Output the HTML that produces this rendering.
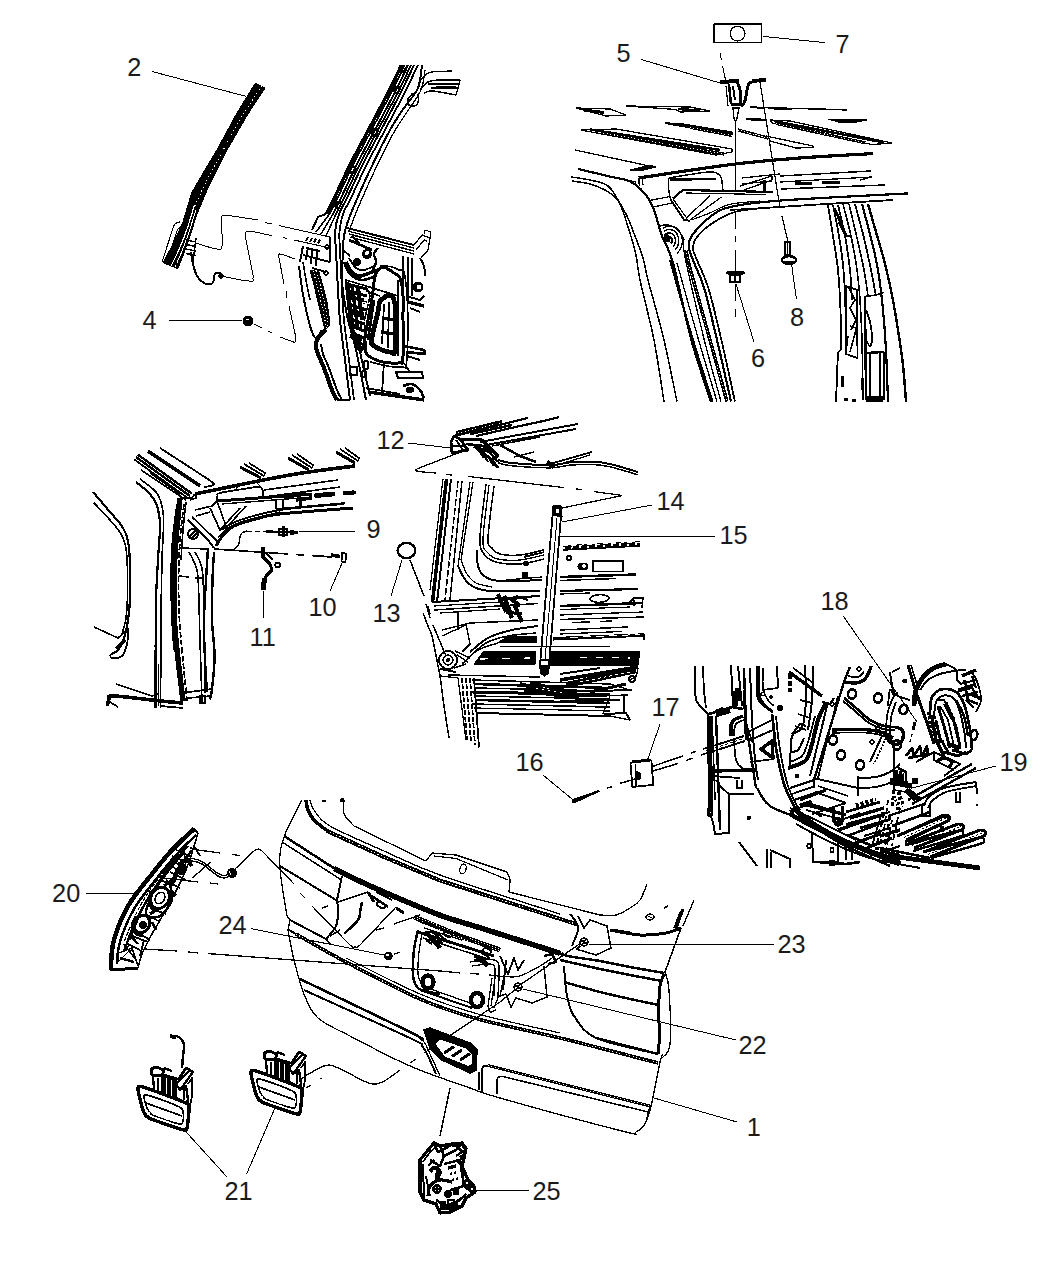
<!DOCTYPE html>
<html><head><meta charset="utf-8"><title>Liftgate parts diagram</title>
<style>
html,body{margin:0;padding:0;background:#fff}
body{width:1050px;height:1275px;overflow:hidden}
svg{display:block}
svg path,svg circle,svg ellipse,svg rect,svg line{stroke:#000;stroke-width:1.3;fill:none;stroke-linejoin:round}
svg text{font-family:"Liberation Sans","DejaVu Sans",sans-serif;font-size:25.3px;fill:#1a1a1a;stroke:none}
</style></head><body>
<svg width="1050" height="1275" viewBox="0 0 1050 1275" shape-rendering="crispEdges">
<g>
<!-- labels -->
<text x="127.3" y="75.5">2</text>
<text x="142.5" y="329">4</text>
<text x="616.5" y="62.4">5</text>
<text x="750.9" y="367.4">6</text>
<text x="835.5" y="53">7</text>
<text x="790.1" y="325.6">8</text>
<text x="366.5" y="538">9</text>
<text x="308.5" y="616">10</text>
<text x="249.5" y="646">11</text>
<text x="376.5" y="449">12</text>
<text x="372.5" y="622">13</text>
<text x="656.5" y="510">14</text>
<text x="719.5" y="544.4">15</text>
<text x="515.5" y="771">16</text>
<text x="651.5" y="715.6">17</text>
<text x="820.5" y="610">18</text>
<text x="999.5" y="771">19</text>
<text x="52.1" y="902">20</text>
<text x="224.5" y="1200">21</text>
<text x="738.5" y="1054">22</text>
<text x="777.5" y="953">23</text>
<text x="218.5" y="934">24</text>
<text x="532.5" y="1199.6">25</text>
<text x="746.8" y="1136">1</text>
<!-- leaders -->
<path d="M152.4,71.6 246.5,96.5" style="stroke-width:1"/>
<path d="M169,320.4 242,320.4" style="stroke-width:1"/>
<path d="M641,59.4 720,83" style="stroke-width:1"/>
<path d="M736,284 754,342" style="stroke-width:1"/>
<path d="M763,36.4 825,42.6" style="stroke-width:1"/>
<path d="M791.6,264.4 796.4,299" style="stroke-width:1"/>
<path d="M299,532 356,531" style="stroke-width:1"/>
<path d="M343,561 330,591" style="stroke-width:1"/>
<path d="M263,590 263.6,618" style="stroke-width:1"/>
<path d="M408,443 451,448" style="stroke-width:1"/>
<path d="M402,560 391,596" style="stroke-width:1"/>
<path d="M562,522 652,505" style="stroke-width:1"/>
<path d="M560,536.6 715,536.6" style="stroke-width:1"/>
<path d="M543,775 572,799" style="stroke-width:1"/>
<path d="M660,724 647.6,759.7" style="stroke-width:1"/>
<path d="M843,615.7 917,722" style="stroke-width:1"/>
<path d="M996,766 912,788" style="stroke-width:1"/>
<path d="M85.6,893.4 136,893.4" style="stroke-width:1"/>
<path d="M184,1129.6 227,1177" style="stroke-width:1"/>
<path d="M275,1108 246.6,1174" style="stroke-width:1"/>
<path d="M523,989 736,1040" style="stroke-width:1"/>
<path d="M589,944.4 773.6,944.4" style="stroke-width:1"/>
<path d="M251,928.6 384,955" style="stroke-width:1"/>
<path d="M475,1190.6 529,1190.6" style="stroke-width:1"/>
<path d="M654,1098 737,1122" style="stroke-width:1"/>
</g>
<g>
<!-- panel A: strip 2 + D pillar -->
<path d="M255.3,83.3 237,113 218,148 202,175 191.6,193 183,222 172,246 163,262.7 177.8,268.6 183,256 190,236 197,214 208.2,187.3 225.9,152 247.5,114.7 265,88Z" style="stroke-width:1;fill:#000"/>
<path d="M261.3,86.2C258.3,90.9 249.9,103.3 243.5,114.1C237.1,124.8 229.2,139.1 222.9,150.5C216.6,161.9 210.5,173.4 205.8,182.6C201.2,191.9 196.8,202.1 194.9,206" style="stroke-width:1;stroke-dasharray:1 3;stroke:#fff"/>
<path d="M194.6,204.6C193.3,208.7 189.6,221.9 186.8,229.7C184.1,237.5 180.7,245.5 178.1,251.5C175.4,257.5 172.3,263.5 171.1,265.9" style="stroke-width:1.2;stroke:#fff"/>
<path d="M195.9,209.8C194.7,213.7 191.1,225.8 188.6,233.2C186.1,240.6 183.1,248.3 180.8,254C178.5,259.7 175.8,265.2 174.8,267.4" style="stroke-width:1;stroke:#fff"/>
<path d="M180,222C179.2,222.3 176.5,222 175,224C173.5,226 172.5,229.7 171,234C169.5,238.3 167.5,245.3 166,250C164.5,254.7 162.7,260 162,262" style="stroke-width:1.2"/>
<path d="M182,226C181.3,226.5 179.3,226.7 178,229C176.7,231.3 175.5,235.5 174,240C172.5,244.5 169.8,253.3 169,256" style="stroke-width:1"/>
<path d="M186,240 196,242" style="stroke-width:1.5"/>
<path d="M186,244.5 196,246.5" style="stroke-width:1.5"/>
<path d="M186,249 196,251" style="stroke-width:1.5"/>
<path d="M186,253.5 196,255.5" style="stroke-width:1.5"/>
<path d="M196,238 193,262" style="stroke-width:1.5"/>
<path d="M178,268 176,262" style="stroke-width:1.5"/>
<path d="M196,243C201.6,244.6 210.1,248.2 217,249C223.9,249.8 220.5,248.4 222,246C223.5,243.6 222.4,241.6 222.5,240" style="stroke-width:1"/>
<path d="M222.5,240 221,221" style="stroke-width:1"/>
<path d="M221,221C221.2,220.2 221.2,217 222,216C222.8,215 225.3,215.2 226,215" style="stroke-width:1"/>
<path d="M226,215 258,220" style="stroke-width:1"/>
<path d="M265,222.6 272,224" style="stroke-width:1"/>
<path d="M279,225.6 330,237" style="stroke-width:1"/>
<path d="M221,276C228.5,277.3 240.5,280.5 249,281C257.5,281.5 252.1,280.4 253,278C253.9,275.6 252.6,273.6 252.5,272" style="stroke-width:1"/>
<path d="M252.5,272 245.5,237" style="stroke-width:1"/>
<path d="M245.5,237C245.6,236.2 245.2,233 246,232C246.8,231 249.3,231.2 250,231" style="stroke-width:1"/>
<path d="M250,231 272,235.6" style="stroke-width:1"/>
<path d="M283,237.6 287,238.4" style="stroke-width:1"/>
<path d="M294,240 330,248" style="stroke-width:1"/>
<path d="M191,252C191.3,254 192,260 193,264C194,268 195.2,272.8 197,276C198.8,279.2 201.5,281.7 204,283C206.5,284.3 210.3,284.3 212,283.6C213.7,282.9 213.5,280.6 214,279C214.5,277.4 214,275 215,274C216,273 218.8,272.5 220,273C221.2,273.5 221.7,276.3 222,277" style="stroke-width:2"/>
<circle cx="221" cy="276" r="2" style="stroke-width:1.5;fill:#000"/>
<circle cx="248" cy="321" r="4.8" style="stroke-width:1;fill:#000"/>
<path d="M246,319 249,320" style="stroke-width:1;stroke:#fff"/>
<path d="M254,324 262,328" style="stroke-width:1"/>
<path d="M268,331 272,333" style="stroke-width:1"/>
<path d="M280,337C282.9,338.1 287,339.7 291,341C295,342.3 293.7,342.8 295,342C296.3,341.2 295.7,339.1 296,338" style="stroke-width:1"/>
<path d="M296,338 289,306" style="stroke-width:1"/>
<path d="M287,298 286,291" style="stroke-width:1"/>
<path d="M284,284 279,258" style="stroke-width:1"/>
<path d="M279,258C279,257.1 278.2,255.4 279,254.5C279.8,253.6 277.7,253.3 282,254.5C286.3,255.7 291.5,257.8 295,259" style="stroke-width:1"/>
<path d="M401,65C399.8,67.5 396.5,74.8 394,80C391.5,85.2 390.3,87.7 386,96C381.7,104.3 374,118.7 368,130C362,141.3 355.7,152.7 350,164C344.3,175.3 338,189.7 334,198C330,206.3 327.3,211.3 326,214" style="stroke-width:2.5"/>
<path d="M404.5,65C403.3,67.5 400,74.8 397.5,80C395,85.2 393.8,87.7 389.5,96C385.2,104.3 377.5,118.7 371.5,130C365.5,141.3 359.2,152.7 353.5,164C347.8,175.3 341.5,189.7 337.5,198C333.5,206.3 330.8,211.3 329.5,214" style="stroke-width:1.8"/>
<path d="M408,65C406.8,67.5 403.5,74.8 401,80C398.5,85.2 397.3,87.7 393,96C388.7,104.3 381,118.7 375,130C369,141.3 362.7,152.7 357,164C351.3,175.3 345,189.7 341,198C337,206.3 334.3,211.3 333,214" style="stroke-width:2"/>
<path d="M411,65C409.8,67.5 406.5,74.8 404,80C401.5,85.2 400.3,87.7 396,96C391.7,104.3 384,118.7 378,130C372,141.3 365.7,152.7 360,164C354.3,175.3 348,189.7 344,198C340,206.3 337.3,211.3 336,214" style="stroke-width:1.8"/>
<path d="M402.5,65C401.3,67.5 398,74.8 395.5,80C393,85.2 391.8,87.7 387.5,96C383.2,104.3 375.5,118.7 369.5,130C363.5,141.3 357.2,152.7 351.5,164C345.8,175.3 339.5,189.7 335.5,198C331.5,206.3 328.8,211.3 327.5,214" style="stroke-width:1.5"/>
<path d="M326,214 318,217 312,230" style="stroke-width:2"/>
<path d="M329.5,214 316,232" style="stroke-width:1.5"/>
<path d="M333,214 321,234" style="stroke-width:1.5"/>
<path d="M336,214 326,236" style="stroke-width:1.5"/>
<path d="M414,65C411.5,70.2 404.5,85.2 399,96C393.5,106.8 387,118.7 381,130C375,141.3 368.7,152.7 363,164C357.3,175.3 351,189.7 347,198C343,206.3 341,208.3 339,214C337,219.7 335.5,226 335,232C334.5,238 335.5,240.3 336,250C336.5,259.7 337.3,278.3 338,290C338.7,301.7 338.8,308.3 340,320C341.2,331.7 343.3,346.7 345,360C346.7,373.3 349.2,393.3 350,400" style="stroke-width:2"/>
<path d="M418,65C415.5,70.2 408.5,85.2 403,96C397.5,106.8 391,118.7 385,130C379,141.3 372.7,152.7 367,164C361.3,175.3 355,189.7 351,198C347,206.3 344.9,208.3 343,214C341.1,219.7 340,226 339.5,232C339,238 339.6,240.3 340,250C340.4,259.7 341.3,278.3 342,290C342.7,301.7 342.8,308.3 344,320C345.2,331.7 347.3,346.7 349,360C350.7,373.3 353.2,393.3 354,400" style="stroke-width:1.8"/>
<ellipse cx="397" cy="90" rx="2.4" ry="3.4" transform="rotate(25 397 90)" style="stroke-width:2"/>
<ellipse cx="375" cy="132" rx="2.4" ry="3.4" transform="rotate(25 375 132)" style="stroke-width:2"/>
<ellipse cx="353" cy="170" rx="2.4" ry="3.4" transform="rotate(25 353 170)" style="stroke-width:2"/>
<ellipse cx="338" cy="205" rx="2.4" ry="3.4" transform="rotate(25 338 205)" style="stroke-width:2"/>
<path d="M422,65C421.3,68.8 421,80.8 418,88C415,95.2 408.7,101 404,108C399.3,115 395.7,119.7 390,130C384.3,140.3 376,157.3 370,170C364,182.7 357.8,197 354,206C350.2,215 348.7,219 347,224C345.3,229 344.7,231.7 344,236C343.3,240.3 343.3,242.7 343,250C342.7,257.3 341.7,271 342,280C342.3,289 344,297.3 345,304C346,310.7 346.2,312.3 348,320C349.8,327.7 353,336.7 356,350C359,363.3 364.3,391.7 366,400" style="stroke-width:2"/>
<path d="M425,70C424.3,73.3 424,83 421,90C418,97 411.7,104.7 407,112C402.3,119.3 398.5,124 393,134C387.5,144 379.8,159.7 374,172C368.2,184.3 361.8,199 358,208C354.2,217 352.5,222 351,226C349.5,230 349.3,231 349,232"/>
<path d="M401,65 403,72 408,65" style="stroke-width:2"/>
<path d="M418,84C419,82.7 421.7,78 424,76C426.3,74 427.3,72.8 432,72C436.7,71.2 448.7,71.2 452,71"/>
<path d="M420,90C421.3,88.7 424.7,83.7 428,82C431.3,80.3 434.7,80.3 440,80C445.3,79.7 456.7,80 460,80" style="stroke-width:1.5"/>
<path d="M428,84 458,84" style="stroke-width:1.5"/>
<path d="M431,88 457,88"/>
<path d="M424,93C425.3,92.7 426.7,90.7 432,91C437.3,91.3 452,94.3 456,95" style="stroke-width:1.5"/>
<path d="M460,80 458,88 456,95"/>
<path d="M436,86 456,86" style="stroke-width:1"/>
<path d="M413,93C412.2,94 408.7,97 408,99C407.3,101 407.7,103.9 409,105C410.3,106.1 414.4,106.3 416,105.5C417.6,104.7 418.2,101.9 418.5,100C418.8,98.1 418.1,95 418,94" style="stroke-width:1.5"/>
<path d="M347,228 414,245" style="stroke-width:2"/>
<path d="M347.9,231 414,248"/>
<path d="M348.8,234 414,251" style="stroke-width:1.5"/>
<path d="M349.7,237 414,254"/>
<path d="M414,245 422,235 430,238 428,250 421,258"/>
<path d="M416,250 424,240 427,241"/>
<path d="M424,234 425,230 431,232 430,238" style="stroke-width:1"/>
</g>
<g>
<!-- panel A interior -->
<path d="M299,266C299.3,268.7 300.2,276.3 301,282C301.8,287.7 302.8,294 304,300C305.2,306 306.7,312.7 308,318C309.3,323.3 310.7,328.7 312,332C313.3,335.3 314.3,338.3 316,338C317.7,337.7 321,331.3 322,330" style="stroke-width:2"/>
<path d="M303,262C303.5,265 304.8,273.7 306,280C307.2,286.3 309.3,296.7 310,300" style="stroke-width:1.6"/>
<path d="M310,270 314,285 318,302 322,318 325,330 329,326 329,316 327,302 323,286 319,272Z" style="stroke-width:1;fill:#000"/>
<path d="M313.1,270.7C313.8,273.1 315.8,280.1 317.1,285.4C318.5,290.6 319.9,296.7 321.1,302C322.4,307.3 323.6,312.9 324.4,317.3C325.3,321.7 326.1,326.7 326.4,328.6" style="stroke-width:1;stroke-dasharray:1.2 2.2;stroke:#fff"/>
<path d="M316.3,271.4C317,273.8 319,280.6 320.3,285.7C321.6,290.8 323.2,296.9 324.3,302C325.4,307.1 326.3,312.4 326.9,316.6C327.5,320.8 327.6,325.4 327.8,327.2" style="stroke-width:1;stroke-dasharray:1.2 2.2;stroke:#fff"/>
<path d="M326,330C324.7,331.3 319.7,335.3 318,338C316.3,340.7 316,343.3 316,346C316,348.7 316.7,350.3 318,354C319.3,357.7 321.7,362 324,368C326.3,374 329.8,384.7 332,390C334.2,395.3 336.2,398.3 337,400" style="stroke-width:4.1"/>
<path d="M321,344C321.3,345.7 321.7,350 323,354C324.3,358 326.7,362 329,368C331.3,374 334.8,384.7 337,390C339.2,395.3 341.2,398.3 342,400" style="stroke-width:2"/>
<path d="M337,400 350,400" style="stroke-width:2"/>
<path d="M308,237 306,241" style="stroke-width:2"/>
<path d="M312,237.8 310,241.8" style="stroke-width:2"/>
<path d="M316,238.6 314,242.6" style="stroke-width:2"/>
<path d="M320,239.4 318,243.4" style="stroke-width:2"/>
<path d="M303,246 300,262" style="stroke-width:2"/>
<path d="M308,247 306,260" style="stroke-width:2"/>
<path d="M312,248 311,264" style="stroke-width:2"/>
<path d="M317,250 316,266" style="stroke-width:2"/>
<path d="M303,255 330,262" style="stroke-width:2"/>
<path d="M306,248 320,251" style="stroke-width:2"/>
<circle cx="327" cy="247" r="1.8" style="stroke-width:1.6"/>
<circle cx="326" cy="273" r="1.8" style="stroke-width:1.6"/>
<path d="M312,268 326,272" style="stroke-width:1.8"/>
<path d="M330,237 330,262" style="stroke-width:1.8"/>
<path d="M378,270C383.1,264.2 388.4,269.3 394,273C399.6,276.7 399.9,275 402,286C404.1,297 402.8,303.7 403,320C403.2,336.3 404.2,346 403,356C401.8,366 405.2,362.5 398,363C390.8,363.5 379.7,362.4 372,358C364.3,353.6 365.9,352.9 365,344C364.1,335.1 366.4,330.7 368,320C369.6,309.3 369.7,309.7 372,298C374.3,286.3 372.9,275.8 378,270Z" style="stroke-width:3"/>
<path d="M380,266C384,266.7 390.9,264.8 397,269C403.1,273.2 403.7,263.7 406,284C408.3,304.3 408.4,336.6 407,356C405.6,375.4 408.6,365.6 400,367C391.4,368.4 377,363.2 370,362" style="stroke-width:1.6"/>
<path d="M381,300C384.2,297.6 391.2,290.4 394,300C396.8,309.6 395.8,337.6 395,348C394.2,358.4 394.2,352.4 390,352C385.8,351.6 377.6,348.8 374,346C370.4,343.2 371.2,344.8 372,338C372.8,331.2 376.2,319.6 378,312C379.8,304.4 377.8,302.4 381,300Z" style="stroke-width:4.7"/>
<path d="M383,318 394,320" style="stroke-width:3.4"/>
<path d="M381,332 394,334" style="stroke-width:3.4"/>
<path d="M384,304 382,344" style="stroke-width:1.8"/>
<path d="M389,302 388,348" style="stroke-width:1.8"/>
<path d="M346,262C347,263.7 349.7,269.7 352,272C354.3,274.3 356.7,276 360,276C363.3,276 369,273 372,272C375,271 377,270.3 378,270" style="stroke-width:3.4"/>
<path d="M349,258C350.2,259.7 353.5,266 356,268C358.5,270 361,270.3 364,270C367,269.7 372.3,266.7 374,266" style="stroke-width:1.8"/>
<path d="M372,272C372.7,270.3 375.7,265 376,262C376.3,259 373.7,256.3 374,254C374.3,251.7 377.3,249 378,248" style="stroke-width:2.4"/>
<circle cx="367" cy="254" r="4.5" style="stroke-width:1;fill:#000"/>
<circle cx="367" cy="253" r="1.5" style="stroke-width:1;fill:#fff;stroke:#fff"/>
<circle cx="357" cy="262" r="3" style="stroke-width:1.6;fill:#000"/>
<path d="M346,280 366,286 370,296 364,322 366,344 360,348 352,330 348,304Z" style="stroke-width:1.6"/>
<path d="M347,284 367,289" style="stroke-width:3"/>
<path d="M347.8,291 367,296" style="stroke-width:3"/>
<path d="M348.6,298 367,303" style="stroke-width:3"/>
<path d="M349.4,305 367,310" style="stroke-width:3"/>
<path d="M350.2,312 364,317" style="stroke-width:3"/>
<path d="M351,319 364,324" style="stroke-width:3"/>
<path d="M351.8,326 364,331" style="stroke-width:3"/>
<path d="M352.6,333 364,338" style="stroke-width:3"/>
<path d="M353.4,340 364,345" style="stroke-width:3"/>
<path d="M352,300 370,304" style="stroke-width:1;stroke:#fff"/>
<path d="M354,318 366,322" style="stroke-width:1;stroke:#fff"/>
<circle cx="358" cy="326" r="3" style="stroke-width:2"/>
<path d="M366,286 398,296" style="stroke-width:1.8"/>
<path d="M366,291 380,296" style="stroke-width:1.8"/>
<path d="M349,240 372,250" style="stroke-width:2.7"/>
<path d="M352,236 360,244" style="stroke-width:2.7"/>
<path d="M343,250 350,256" style="stroke-width:2"/>
<path d="M403,256 403,300" style="stroke-width:1.8"/>
<path d="M408,257 408,300" style="stroke-width:2.7"/>
<path d="M412,258 412,296" style="stroke-width:1.8"/>
<path d="M420,258C420.7,259.3 423.2,263 424,266C424.8,269 424.8,274.3 425,276" style="stroke-width:2"/>
<circle cx="418" cy="287" r="5" style="stroke-width:1;fill:#000"/>
<circle cx="419" cy="287" r="2" style="stroke-width:1;fill:#fff;stroke:#fff"/>
<path d="M406,296 420,300 424,296" style="stroke-width:2"/>
<path d="M408,302 424,306" style="stroke-width:3.4"/>
<path d="M410,308 420,312" style="stroke-width:2"/>
<path d="M404,346 424,350 425,354 406,352" style="stroke-width:2.7"/>
<path d="M407,356 420,360" style="stroke-width:2"/>
<path d="M396,372 422,372 423,378 398,378Z" style="stroke-width:2"/>
<path d="M403,386C404.5,385.7 409.2,383.3 412,384C414.8,384.7 418,387.7 420,390C422,392.3 423.3,396.7 424,398" style="stroke-width:2.7"/>
<ellipse cx="410" cy="390" rx="4" ry="3" style="stroke-width:1;fill:#000"/>
<circle cx="414" cy="394" r="2" style="stroke-width:1;fill:#fff;stroke:#fff"/>
<path d="M368,392 424,400" style="stroke-width:3.4"/>
<path d="M366,388 400,394" style="stroke-width:1.8"/>
<path d="M384,362 382,394" style="stroke-width:1.8"/>
<path d="M404,363 410,372" style="stroke-width:1.6"/>
<rect x="350" y="367" width="7" height="8" style="stroke-width:1.6"/>
<ellipse cx="366" cy="365" rx="2.5" ry="4" style="stroke-width:2"/>
<ellipse cx="364" cy="374" rx="2.5" ry="3.5" style="stroke-width:2"/>
<path d="M360,352 370,396" style="stroke-width:2"/>
<path d="M356,350 366,400" style="stroke-width:1.8"/>
<path d="M347,282 352,330 360,350" style="stroke-width:4.7"/>
<path d="M352,286 358,330" style="stroke-width:3.4"/>
<path d="M358,288 362,320" style="stroke-width:4.1"/>
<path d="M346,296 364,300" style="stroke-width:3.4"/>
<path d="M348,310 364,314" style="stroke-width:4.1"/>
<path d="M350,336 362,340" style="stroke-width:4.1"/>
<path d="M344,262C345,264 347,271 350,274C353,277 357.7,279.7 362,280C366.3,280.3 373.7,276.7 376,276" style="stroke-width:2.7"/>
<path d="M398,280 398,356" style="stroke-width:1.8"/>
<path d="M366,344 360,352" style="stroke-width:3.4"/>
<path d="M374,300 368,340" style="stroke-width:2.7"/>
</g>
<g>
<!-- panel B: roof + hinge -->
<rect x="714" y="24" width="47.6" height="18.6"/>
<circle cx="737.6" cy="33.6" r="7.4"/>
<path d="M720,53 721.5,60" style="stroke-width:1"/>
<path d="M722.5,66 726,82" style="stroke-width:1"/>
<path d="M720,82 739,81" style="stroke-width:4"/>
<path d="M737,82C737.7,83.9 739.1,84.9 740,90C740.9,95.1 740.1,101 741,104C741.9,107 742.8,104.9 744,103C745.2,101.1 745.1,100 746,96C746.9,92 746.6,89.3 748,86C749.4,82.7 747.8,83.4 752,82C756.2,80.6 762.7,80.5 766,80" style="stroke-width:3"/>
<path d="M752,81 766,79.5" style="stroke-width:3.5"/>
<path d="M729,84 731,104" style="stroke-width:2.5"/>
<path d="M733,86 735,100" style="stroke-width:2"/>
<path d="M726,86 728,106" style="stroke-width:1.2"/>
<path d="M731,104 741,105" style="stroke-width:3"/>
<path d="M732,108 740,108" style="stroke-width:2"/>
<path d="M733,108 734,118 735.6,122 737,118 739,108"/>
<path d="M735.6,122 735.6,190.7"/>
<path d="M735.6,213 735.6,228.6" style="stroke-width:1.5"/>
<path d="M735.6,235.7 735.6,242" style="stroke-width:1.5"/>
<path d="M735.6,250 735.6,271" style="stroke-width:1.5"/>
<path d="M735.6,284 735.6,301.4" style="stroke-width:1"/>
<path d="M735.6,308.6 735.6,317" style="stroke-width:1"/>
<path d="M760,82 780,208" style="stroke-width:1.2"/>
<path d="M782,216 788,242" style="stroke-width:1.2"/>
<path d="M728,272.9 743,272.9" style="stroke-width:3.5;stroke-linecap:round"/>
<rect x="730" y="275" width="10" height="7" style="stroke-width:1.5"/>
<path d="M735,275 735,282" style="stroke-width:1.2"/>
<rect x="785" y="242" width="5" height="13" style="stroke-width:2.2"/>
<path d="M787.5,242 787.5,255" style="stroke-width:1"/>
<ellipse cx="789" cy="260" rx="7" ry="3.8" style="stroke-width:2.5"/>
<path d="M784,262 794,262" style="stroke-width:1.5"/>
<path d="M576,108 610,109 626,115 606,116Z"/>
<path d="M584,110 604,112.5" style="stroke-width:3"/>
<path d="M626,106 690,107 710,111 680,112 676,109.5Z"/>
<path d="M678,109 700,110.5" style="stroke-width:2.5"/>
<path d="M581,130 616,129 732,149 732,152 716,155 586,131Z"/>
<path d="M590,129.5 720,150" style="stroke-width:2.5"/>
<path d="M600,132.5 724,154" style="stroke-width:3.2"/>
<path d="M600,132.5 724,154" style="stroke-width:1;stroke-dasharray:1 2.5;stroke:#fff"/>
<path d="M665,123 680,123.5 732,132 732,135 668,124Z" style="stroke-width:1.2"/>
<path d="M668,123.5 732,133" style="stroke-width:2.5"/>
<path d="M690,127.5 732,135.5" style="stroke-width:3"/>
<path d="M690,127.5 732,135.5" style="stroke-width:1;stroke-dasharray:1 2.5;stroke:#fff"/>
<path d="M575,150 654,167"/>
<path d="M630,170 650,165 656,167 640,171Z" style="stroke-width:1;fill:#000"/>
<path d="M578,169 636,182"/>
<path d="M750,107 847,110"/>
<path d="M768,108 792,109" style="stroke-width:2.5"/>
<path d="M808,108.6 826,109.4" style="stroke-width:2"/>
<path d="M828,119 867,120 852,123 838,122Z" style="stroke-width:1;fill:#000"/>
<path d="M770,120 790,121 892,143 872,144.5 772,123Z"/>
<path d="M774,121 884,142.5" style="stroke-width:2.5"/>
<path d="M776,123.5 866,143" style="stroke-width:3"/>
<path d="M776,123.5 866,143" style="stroke-width:1;stroke-dasharray:1 2.5;stroke:#fff"/>
<path d="M738,130 768,138" style="stroke-width:3.2"/>
<path d="M738,130 768,138" style="stroke-width:1;stroke-dasharray:1.5 1.5;stroke:#fff"/>
<path d="M766,136 813,146 813,147.5 796,148 770,141"/>
<path d="M746,119 766,120" style="stroke-width:2.5"/>
<path d="M750,107 764,108" style="stroke-width:2"/>
<path d="M638.6,178C654.3,175.7 706.1,167.6 733,164.3C759.9,161 776.7,159.8 800,158C823.3,156.2 860.8,154.3 873,153.6" style="stroke-width:3.2"/>
<path d="M638.6,178 639.5,186" style="stroke-width:1.5"/>
<path d="M642,177.5 643,185" style="stroke-width:1.2"/>
<path d="M780,176 871,171" style="stroke-width:1.5"/>
<path d="M780,182 872,177"/>
<path d="M781,189 885,185" style="stroke-width:1.5"/>
<path d="M795,184 812,183" style="stroke-width:3"/>
<path d="M822,183 840,182" style="stroke-width:3"/>
<path d="M860,180 868,178"/>
<path d="M742,178 780,174"/>
<path d="M742,184 772,181"/>
<path d="M571,177C574.2,177.5 583.8,178.5 590,180C596.2,181.5 603,182 608,186C613,190 616.5,196.7 620,204C623.5,211.3 626.3,221.5 629,230C631.7,238.5 634.2,246.7 636,255C637.8,263.3 637,265.8 640,280C643,294.2 650,319.7 654,340C658,360.3 662.3,391.3 664,401.6" style="stroke-width:1.5"/>
<path d="M572,181C575,181.5 584.7,182.6 590,184C595.3,185.4 599.7,187.2 604,189.5C608.3,191.8 612.3,193.9 616,198C619.7,202.1 622.8,207.7 626,214C629.2,220.3 632.2,228.7 635,236C637.8,243.3 640.8,250.7 643,258C645.2,265.3 644.5,266.3 648,280C651.5,293.7 659.2,319.7 664,340C668.8,360.3 674.8,391.3 677,401.6" style="stroke-width:1.5"/>
<path d="M578,169C583.7,170.3 603.3,174.9 612,177C620.7,179.1 624.6,178.7 630,181.4C635.4,184.1 640.5,188.7 644.3,193C648.1,197.3 650.1,200.1 653,207C655.9,213.9 658.1,225 661.4,234.3C664.7,243.6 668,245.4 673,263C678,280.6 685.1,316.9 691.4,340C697.7,363.1 707.7,391.3 711,401.6" style="stroke-width:2.2"/>
<path d="M668.6,178C668.6,180 668.4,186.3 668.8,190C669.1,193.7 670.4,198.3 670.7,200" style="stroke-width:1.5"/>
<path d="M668.6,178C673.6,177.2 680.3,175.9 690,174.5C699.7,173.1 703.5,172.1 710,172C716.5,171.9 715.3,172.5 718,174C720.7,175.5 720.3,174.9 721.4,178.6C722.5,182.3 722.5,187.3 722.9,190" style="stroke-width:1.5"/>
<path d="M670,179.5 716,179" style="stroke-width:2.5"/>
<path d="M672.9,198.6 682.9,190 772.9,192" style="stroke-width:2.2"/>
<path d="M686,193 766,194.5" style="stroke-width:1.2"/>
<path d="M670.7,200 684.3,220 690,220.7" style="stroke-width:2"/>
<path d="M673,199 686,217" style="stroke-width:1.2"/>
<path d="M685.7,218.6 710,195.7"/>
<path d="M690,220 721.4,197"/>
<path d="M648.6,200.7 670.7,196.4"/>
<path d="M652.9,207 672.9,202.9"/>
<path d="M908,193.4C886.4,194.6 808.3,198.4 778.6,200.7C748.9,203 741.4,204.3 730,207C718.6,209.7 716.2,212.4 710,217C703.8,221.6 696.5,229.5 692.9,234.3C689.3,239.1 688.6,241.7 688.6,246C688.6,250.3 690.3,252.9 692.9,260C695.5,267.1 700.3,275.3 704.3,288.6C708.3,301.9 712.5,321.2 717,340C721.5,358.8 728.7,391.3 731,401.6" style="stroke-width:2.2"/>
<path d="M893,200C873.9,201.2 804.6,205.1 778.6,207C752.6,208.9 748,208.8 737,211.4C726,214.1 719.6,218.6 712.9,222.9C706.2,227.2 700.3,232.7 697,237C693.7,241.3 693,244.8 693,248.6C693,252.4 694.4,253.3 697,260C699.6,266.7 704.4,275.3 708.5,288.6C712.6,301.9 717,321.2 721.4,340C725.8,358.8 732.7,391.3 735,401.6" style="stroke-width:1.8"/>
<path d="M691.4,220C694.5,218.8 703.6,215.5 710,212.9C716.4,210.3 721.7,206.3 730,204.3C738.3,202.3 755,201.6 760,201" style="stroke-width:1.2"/>
<path d="M740,186 772,176 772,180 744,190"/>
<path d="M764,180 764,192" style="stroke-width:3"/>
<path d="M667.1,237.2 A3,3.6 0 0 1 670.7,243.3" style="stroke-width:2"/>
<path d="M665.6,234.3 A6,7.2 0 0 1 672.8,246.6" style="stroke-width:1.5"/>
<path d="M664.1,231.4 A9,10.8 0 0 1 674.9,249.9" style="stroke-width:1.5"/>
<path d="M662.6,228.6 A12,14.4 0 0 1 677,253.2" style="stroke-width:1.3"/>
<ellipse cx="667" cy="238" rx="2.5" ry="4" transform="rotate(-20 667 238)" style="stroke-width:1;fill:#000"/>
<path d="M660,226C661.3,225.8 665,224.3 668,225C671,225.7 675.3,227.5 678,230C680.7,232.5 683,238.3 684,240" style="stroke-width:1.5"/>
<path d="M670,260C673.8,273.3 685.8,316.4 692.9,340C700,363.6 709.2,391.3 712.5,401.6" style="stroke-width:2.2"/>
<path d="M677,262.9C680.6,275.8 691.9,316.9 698.6,340C705.3,363.1 713.9,391.3 717,401.6"/>
<path d="M682.9,240C683.4,243.7 682.4,245.3 686,262C689.6,278.7 698.5,316.7 704.3,340C710.1,363.3 718.2,391.3 721,401.6"/>
<path d="M686,250C686.7,253 686,253 690,268C694,283 703.8,317.7 710,340C716.2,362.3 724.2,391.3 727,401.6" style="stroke-width:3.5"/>
<path d="M686,250C686.7,253 686,253 690,268C694,283 703.8,317.7 710,340C716.2,362.3 724.2,391.3 727,401.6" style="stroke-width:1;stroke-dasharray:1 2.5;stroke:#fff"/>
</g>
<g>
<!-- panel B right pillar -->
<path d="M828,205C828.8,210.2 831.3,225.2 833,236C834.7,246.8 836.8,257.7 838,270C839.2,282.3 840,296.7 840.5,310C841,323.3 840.9,343.3 841,350" style="stroke-width:1.8"/>
<path d="M841,350 838,352" style="stroke-width:1.6"/>
<path d="M838,352C837.8,356 837.3,367.7 837,376C836.7,384.3 836.2,397.3 836,401.6" style="stroke-width:1.8"/>
<path d="M868,204C869.3,208.7 873.3,222.7 876,232C878.7,241.3 881.3,249.5 884,260C886.7,270.5 889.7,283.3 892,295C894.3,306.7 896.2,318.3 898,330C899.8,341.7 901.7,353.1 903,365C904.3,376.9 905.5,395.5 906,401.6" style="stroke-width:2.4"/>
<path d="M862,204C863.5,209.7 868.3,227 871,238C873.7,249 876,258 878,270C880,282 881.7,296.7 883,310C884.3,323.3 885.2,334.7 886,350C886.8,365.3 887.7,393 888,401.6" style="stroke-width:2.2"/>
<path d="M855,204C856.5,209.7 861.3,227 864,238C866.7,249 869,260.3 871,270C873,279.7 875.2,291.7 876,296" style="stroke-width:1.8"/>
<path d="M849,204C850.3,209.7 854.5,227 857,238C859.5,249 862.2,260.3 864,270C865.8,279.7 867.3,291.7 868,296" style="stroke-width:1.6"/>
<path d="M843,204C844.3,209.3 848.7,225 851,236C853.3,247 855.5,259.3 857,270C858.5,280.7 859.2,288.3 860,300C860.8,311.7 861.5,323.3 862,340C862.5,356.7 862.8,390 863,400" style="stroke-width:1.6"/>
<path d="M838,205C839.2,210.2 843,225.2 845,236C847,246.8 848.8,259.3 850,270C851.2,280.7 851.7,295 852,300" style="stroke-width:1.8"/>
<path d="M833,205C834,210.2 837.2,225.2 839,236C840.8,246.8 842.4,257.7 843.5,270C844.6,282.3 845.1,296 845.5,310C845.9,324 845.9,346.7 846,354" style="stroke-width:1.8"/>
<path d="M834,208 838,216 846,236 839,222" style="stroke-width:3"/>
<path d="M846,236 850,236" style="stroke-width:1.8"/>
<path d="M846,286 857,290 857.5,358 846,354Z" style="stroke-width:1.8"/>
<path d="M849,288 855,300 850,308 856,320 851,330" style="stroke-width:1.6"/>
<path d="M850,326 856,328" style="stroke-width:1.8"/>
<path d="M848,336 846,352" style="stroke-width:1.6"/>
<path d="M857,326 850,352" style="stroke-width:1.6"/>
<path d="M865,296.5 876,295 884,292.5" style="stroke-width:1.6"/>
<path d="M865,296.5 866,400" style="stroke-width:2.4"/>
<path d="M884,352 884,400" style="stroke-width:1.8"/>
<path d="M866,353 884,352" style="stroke-width:2.4"/>
<path d="M870,354 870,398" style="stroke-width:1.6"/>
<path d="M880,353 880,398" style="stroke-width:1.6"/>
<path d="M866,398.5 883,398.5" style="stroke-width:6"/>
<path d="M866,310C866.7,312 869,317.3 870,322C871,326.7 872,334 872,338C872,342 871,345.7 870,346C869,346.3 866.7,341 866,340" style="stroke-width:1.8"/>
<path d="M842,376 842,387" style="stroke-width:3"/>
<path d="M862,378 862,390" style="stroke-width:3"/>
<path d="M844,399.5 848,399.5" style="stroke-width:3.6"/>
<path d="M852,400.5 856,400.5" style="stroke-width:2.4"/>
<path d="M730,210 893,200" style="stroke-width:1.6"/>
</g>
<g>
<!-- panel C: left corner 9,10,11 -->
<path d="M93,492C95.8,495.3 105,506 110,512C115,518 119.8,522 123,528C126.2,534 127.8,536.7 129,548C130.2,559.3 130.2,584 130,596C129.8,608 129,613 128,620C127,627 125.7,633 124,638C122.3,643 120.3,647.2 118,650C115.7,652.8 111.3,654.2 110,655" style="stroke-width:2.2"/>
<path d="M94,503C96.7,505.8 105.5,514.8 110,520C114.5,525.2 118.2,528.7 121,534C123.8,539.3 125.4,541.7 126.5,552C127.6,562.3 127.6,585 127.5,596C127.4,607 126.9,611.7 126,618C125.1,624.3 122.7,631.3 122,634" style="stroke-width:1.6"/>
<path d="M110,655C110.3,655.5 110,657.8 112,658C114,658.2 119.5,658.3 122,656C124.5,653.7 125.9,648.7 127,644C128.1,639.3 128.2,630.7 128.5,628" style="stroke-width:1.8"/>
<path d="M116,649 125,640" style="stroke-width:3.6"/>
<path d="M94,627 118,638 125,632" style="stroke-width:1.6"/>
<path d="M136,482C138.3,484 146.5,490 150,494C153.5,498 155.3,501 157,506C158.7,511 159.8,515 160,524C160.2,533 158.7,547.3 158,560C157.3,572.7 156.4,585 156,600C155.6,615 155.7,632 155.6,650C155.5,668 155.5,698.3 155.5,708" style="stroke-width:2.2"/>
<path d="M140,479C142.7,481.2 152.3,487.5 156,492C159.7,496.5 160.7,500.7 162,506C163.3,511.3 163.6,515 163.6,524C163.6,533 162.4,544 162,560C161.6,576 161.2,595.3 161,620C160.8,644.7 160.7,693.3 160.6,708" style="stroke-width:1.6"/>
<path d="M158,664 158,706" style="stroke-width:1"/>
<path d="M136,457 190,496" style="stroke-width:2.4"/>
<path d="M137.8,454.6 191.8,493.6" style="stroke-width:2.4"/>
<path d="M134.2,459.4 188.2,498.4" style="stroke-width:1.8"/>
<path d="M148,451 200,486" style="stroke-width:3.6"/>
<path d="M160,448C165.2,451.4 207,478.2 212,482C217,485.8 210.8,485.5 210,486C209.2,486.5 204.6,486.9 204,487" style="stroke-width:1.8"/>
<path d="M141,470 186,500" style="stroke-width:1.8"/>
<path d="M150,473 180,494" style="stroke-width:1.6"/>
<path d="M240,467 261,478" style="stroke-width:3"/>
<path d="M244,464 264,476" style="stroke-width:1.8"/>
<path d="M249,463 265,473 264,476" style="stroke-width:1.8"/>
<path d="M288,458 309,470" style="stroke-width:3"/>
<path d="M292,455 312,468" style="stroke-width:1.8"/>
<path d="M297,454 313,465 312,468" style="stroke-width:1.8"/>
<path d="M336,452 355,463" style="stroke-width:3"/>
<path d="M340,449 358,461" style="stroke-width:1.8"/>
<path d="M345,448 359,458 358,461" style="stroke-width:1.8"/>
<path d="M195,494C210.8,490.8 263.3,479.7 290,475C316.7,470.3 344.2,467.5 355,466" style="stroke-width:3.6"/>
<path d="M180,498 192,498 195,494" style="stroke-width:1.8"/>
<path d="M190,500 196,498 197,493" style="stroke-width:1.6"/>
<path d="M180,498C179.3,505 177,526.3 176,540C175,553.7 174.2,566.7 174,580C173.8,593.3 174,608.3 174.5,620C175,631.7 175.6,636.5 177,650C178.4,663.5 182,692.5 183,701" style="stroke-width:5.4"/>
<path d="M177,504C176.2,510 173.5,527.3 172.5,540C171.5,552.7 171.1,566.7 171,580C170.9,593.3 171.5,608.3 172,620C172.5,631.7 173.7,645 174,650" style="stroke-width:1.6"/>
<path d="M184,504C183.3,510 180.9,527.3 180,540C179.1,552.7 178.6,566.7 178.5,580C178.4,593.3 178.9,608.3 179.5,620C180.1,631.7 180.8,636.5 182,650C183.2,663.5 186.2,692.5 187,701" style="stroke-width:1.8;stroke-dasharray:6 2"/>
<path d="M186,502C185.5,506.7 183.8,520.3 183,530C182.2,539.7 181.3,555 181,560" style="stroke-width:1.6"/>
<path d="M217,501C217.1,500 216.9,497.6 217.5,496C218.1,494.4 215.5,494.3 220,493C224.5,491.7 232.4,490.7 240,489.5C247.6,488.3 253.6,487.1 258,487C262.4,486.9 261,487.8 262,489C263,490.2 262.8,491.2 263,493C263.2,494.8 263,497 263,498" style="stroke-width:1.8"/>
<path d="M236,490 238,484 256,482 262,488" style="stroke-width:1.4"/>
<path d="M218,501 312,494" style="stroke-width:3"/>
<path d="M222,504 300,498" style="stroke-width:1.4"/>
<path d="M264,490 338,480" style="stroke-width:1.6"/>
<path d="M264,497 340,487" style="stroke-width:1.6"/>
<path d="M283,500 283,508" style="stroke-width:1.8"/>
<path d="M276,500 276,509" style="stroke-width:1.6"/>
<path d="M300,497 300,506" style="stroke-width:3"/>
<path d="M284,497 306,494" style="stroke-width:3.6"/>
<path d="M296,500 312,498" style="stroke-width:3.6"/>
<path d="M316,495.5 333,494" style="stroke-width:4.8;stroke-linecap:round"/>
<path d="M345,493 354,492.5" style="stroke-width:4.2;stroke-linecap:round"/>
<path d="M276,509 345,503" style="stroke-width:1.6"/>
<path d="M210,508 220,530 226,528" style="stroke-width:1.8"/>
<path d="M217,501 226,526" style="stroke-width:1.6"/>
<path d="M220,530 240,508" style="stroke-width:1.6"/>
<path d="M226,528 246,506" style="stroke-width:1.6"/>
<path d="M195,510 212,506 217,501" style="stroke-width:1.6"/>
<path d="M196,516 210,512" style="stroke-width:1.6"/>
<path d="M188,520 208,540 214,548" style="stroke-width:1.8"/>
<path d="M192,517 212,536 218,542" style="stroke-width:1.6"/>
<circle cx="193" cy="534" r="5" style="stroke-width:1.8"/>
<path d="M189,537 196,530" style="stroke-width:2.4"/>
<path d="M191,539 198,532" style="stroke-width:1.8"/>
<path d="M216,546C217.3,544 221,537.3 224,534C227,530.7 228.7,528.5 234,526C239.3,523.5 248.3,521 256,519C263.7,517 263.8,515.8 280,514C296.2,512.2 340.8,509 353,508" style="stroke-width:3"/>
<path d="M220,530C223.3,528.3 230,523.3 240,520C250,516.7 262.7,512.7 280,510C297.3,507.3 333.3,505 344,504" style="stroke-width:1.8"/>
<path d="M218,538C219.7,536.3 223.7,530.8 228,528C232.3,525.2 235.3,523.7 244,521C252.7,518.3 274,513.5 280,512" style="stroke-width:1.4"/>
<path d="M208,548C207.7,553.3 206.7,568 206,580C205.3,592 204.2,606.7 204,620C203.8,633.3 204.5,648 205,660C205.5,672 206.7,686.7 207,692" style="stroke-width:2.4"/>
<path d="M214,552C213.8,556.7 212.8,568.7 212.5,580C212.2,591.3 211.7,607.3 212,620C212.3,632.7 214.6,644.5 214.6,656C214.6,667.5 212.8,681.8 212,689C211.2,696.2 210.3,697.8 210,699.5" style="stroke-width:2.4"/>
<path d="M189,552C189.8,553.7 192.5,557.7 194,562C195.5,566.3 197,565 198,578C199,591 199.3,619.2 200,640C200.7,660.8 201.7,692.5 202,703" style="stroke-width:1.6"/>
<path d="M195,552C195.8,553.7 198.7,557.7 200,562C201.3,566.3 202.2,565 203,578C203.8,591 204.2,620.9 204.5,640C204.8,659.1 204.9,683.8 205,692.6" style="stroke-width:1.6"/>
<path d="M180,548 208,549" style="stroke-width:1.6"/>
<path d="M179,576 189,577" style="stroke-width:1.6"/>
<path d="M195,578 203,578" style="stroke-width:1.6"/>
<path d="M184.6,692.6 212,689" style="stroke-width:1.8"/>
<path d="M183,698.6 210,696" style="stroke-width:1.6"/>
<rect x="200" y="696" width="5" height="7" style="stroke-width:1.4"/>
<path d="M107.4,706C107.7,704.8 107.9,700.7 109,699C110.1,697.3 105.4,695.7 114,696C122.6,696.3 149.1,699.8 160.6,701C172.1,702.2 179.3,702.7 183,703" style="stroke-width:3.6"/>
<path d="M160.6,706 183,708" style="stroke-width:1.8"/>
<path d="M110,702 118,707" style="stroke-width:1.8"/>
<path d="M116,684 152,696 159,693.5" style="stroke-width:1.6"/>
<path d="M247,531 266,531" style="stroke-width:1;stroke-dasharray:5 3"/>
<path d="M266,531.5 298,532.5" style="stroke-width:2.4"/>
<path d="M283,526 283,537" style="stroke-width:3"/>
<path d="M279,529 287,529 287,535 279,535Z" style="stroke-width:1.4"/>
<circle cx="292" cy="532.5" r="1.8" style="stroke-width:1.4"/>
<path d="M247,531C246.2,531.3 243.2,532 242,533C240.8,534 240.6,535 240,537C239.4,539 239.7,542.8 238.5,545C237.3,547.2 233.9,549.2 233,550" style="stroke-width:1.4"/>
<path d="M214,549 288,554" style="stroke-width:1.6"/>
<path d="M296,554.5 304,555" style="stroke-width:1.8"/>
<path d="M312,555.5 332,557" style="stroke-width:1.8"/>
<path d="M331,555 340,556.5" style="stroke-width:3.6"/>
<path d="M342,553 346,553.5 345.5,562 341.5,561.5Z" style="stroke-width:1.8"/>
<path d="M263,547 263,558" style="stroke-width:3.6"/>
<path d="M263,557 270,564 272,570 266,576 264,590" style="stroke-width:3"/>
<path d="M266,553 273,560" style="stroke-width:1.8"/>
<circle cx="277.6" cy="565" r="2.4" style="stroke-width:1.8"/>
<path d="M263.5,578 263,590" style="stroke-width:3.6"/>
<ellipse cx="406.5" cy="550.5" rx="8.8" ry="7.7" style="stroke-width:2.4"/>
</g>
<g>
<!-- panel D: strut 12-15 -->
<path d="M454,436 460,439 468,450 452,453 451,442Z" style="stroke-width:2.8"/>
<path d="M456,440 463,450" style="stroke-width:2"/>
<path d="M453,446 466,446" style="stroke-width:2"/>
<path d="M460,439 482,440 498,456 492,460 474,446" style="stroke-width:3"/>
<path d="M466,444 484,446 498,462" style="stroke-width:2.5"/>
<path d="M478,450 488,449" style="stroke-width:4"/>
<path d="M468,441.5 476,442" style="stroke-width:1;stroke:#fff"/>
<path d="M492,460 498,468" style="stroke-width:3"/>
<path d="M488,456 494,466" style="stroke-width:2.5"/>
<path d="M484,455 488,462" style="stroke-width:2"/>
<path d="M480,452 484,458" style="stroke-width:2"/>
<path d="M476,448 492,452" style="stroke-width:3.5"/>
<path d="M454,436 528,418" style="stroke-width:2.2"/>
<path d="M456,433 502,422" style="stroke-width:4"/>
<path d="M458,433 500,423" style="stroke-width:1;stroke-dasharray:1 2.5;stroke:#fff"/>
<path d="M476,436 520,426 548,420 559,417" style="stroke-width:2.2"/>
<path d="M480,442 578,424" style="stroke-width:2"/>
<path d="M486,445 576,429" style="stroke-width:2"/>
<path d="M470,434 512,425" style="stroke-width:2.5"/>
<path d="M492,446 540,437" style="stroke-width:1.5"/>
<path d="M500,445 520,456 536,462" style="stroke-width:2.5"/>
<path d="M514,457 534,452" style="stroke-width:1.5"/>
<path d="M498,460C500.3,460.5 503.3,462.2 512,463C520.7,463.8 540.3,465.1 550,465C559.7,464.9 563,463 570,462.4C577,461.8 585.3,461.3 592,461.6C598.7,461.9 602.3,462.3 610,464C617.7,465.7 633.3,470.7 638,472" style="stroke-width:2"/>
<path d="M498,462.8C500.3,463.3 503.3,465 512,465.8C520.7,466.6 540.3,467.9 550,467.8C559.7,467.7 563,465.8 570,465.2C577,464.6 585.3,464.1 592,464.4C598.7,464.7 602.3,465.1 610,466.8C617.7,468.5 633.3,473.5 638,474.8" style="stroke-width:1.5"/>
<path d="M550,464 592,452" style="stroke-width:1.8"/>
<path d="M554,466 590,455"/>
<path d="M547,462 554,467" style="stroke-width:4.5"/>
<path d="M466,450C461.1,451.9 421.6,466.9 417,469C412.4,471.1 418.1,471.1 420,471.5C421.9,471.9 434.4,472.9 436,473"/>
<path d="M446,474.5 452,475"/>
<path d="M468,476.4 564,487.6"/>
<path d="M576,489 582,489.6"/>
<path d="M594,491.6 622,495.4"/>
<path d="M622,495.6 562,508"/>
<path d="M446.5,479 432.5,602" style="stroke-width:3.5"/>
<path d="M451,479 437,602" style="stroke-width:2"/>
<path d="M458,481 445,600" style="stroke-width:1.5;stroke-dasharray:7 2"/>
<path d="M462,481 450,600" style="stroke-width:1.5"/>
<path d="M470,482 458,566"/>
<path d="M473,482 461,560"/>
<path d="M443,479 430,590" style="stroke-width:1.2"/>
<path d="M494,486C493,494.7 488.3,527.7 488,538C487.7,548.3 490,545.3 492,548C494,550.7 495.3,552.8 500,554C504.7,555.2 512.7,555.7 520,555C527.3,554.3 540,550.8 544,550" style="stroke-width:1.5"/>
<path d="M489,485C488,494.2 483.2,528.7 483,540C482.8,551.3 485.5,549.8 488,553C490.5,556.2 492.7,557.8 498,559C503.3,560.2 512.3,560.7 520,560C527.7,559.3 540,555.8 544,555"/>
<path d="M486,484C485,493 480.3,526.3 480,538C479.7,549.7 481.3,550 484,554C486.7,558 490,560.3 496,562C502,563.7 512,564.5 520,564C528,563.5 540,559.8 544,559" style="stroke-width:1.5"/>
<path d="M477,550C477.2,552.7 476.8,561.7 478,566C479.2,570.3 480.3,573.5 484,576C487.7,578.5 490.3,580.3 500,581C509.7,581.7 535,580.2 542,580" style="stroke-width:2"/>
<path d="M458,566C459,568 461.7,574.7 464,578C466.3,581.3 467.7,583.8 472,586C476.3,588.2 478.7,590.2 490,591C501.3,591.8 531.7,591 540,591" style="stroke-width:2"/>
<path d="M461,560C462,562.3 464.5,570.2 467,574C469.5,577.8 471.8,580.8 476,583C480.2,585.2 489.3,586.3 492,587" style="stroke-width:1.2"/>
<path d="M524,556 544,551" style="stroke-width:4"/>
<path d="M524,556 544,551" style="stroke-width:1;stroke-dasharray:1.5 3;stroke:#fff"/>
<rect x="524" y="562" width="4" height="3" style="stroke-width:1.2"/>
<circle cx="525" cy="575" r="3" style="stroke-width:1;fill:#000"/>
<path d="M506,580 542,577"/>
<path d="M553,510 540,665" style="stroke-width:1.8"/>
<path d="M561,516 549,665" style="stroke-width:1.8"/>
<path d="M557,518 545,660" style="stroke-width:1"/>
<path d="M553,506 561,506 562,517 553,515Z" style="stroke-width:1.2;fill:#000"/>
<circle cx="557.5" cy="511" r="1.5" style="stroke-width:1;fill:#fff;stroke:#fff"/>
<path d="M540,660 549,660"/>
<path d="M540,665 540.5,673 544.5,676 548.5,673 549,665" style="stroke-width:1.5;fill:#000"/>
<path d="M563,548 640,544" style="stroke-width:5.5"/>
<path d="M563,548 640,544" style="stroke-width:2;stroke-dasharray:2 6;stroke:#fff"/>
<path d="M563,546 640,542" style="stroke-width:1;stroke-dasharray:5 3;stroke:#fff"/>
<rect x="567" y="556" width="4" height="4"/>
<ellipse cx="583" cy="566.5" rx="5" ry="3.5" style="stroke-width:1;fill:#000"/>
<circle cx="584" cy="566" r="1.2" style="stroke-width:1;fill:#fff;stroke:#fff"/>
<rect x="593" y="561" width="30" height="10.6" style="stroke-width:1.5"/>
<path d="M560,577 636,574.5" style="stroke-width:2.5"/>
<path d="M560,580.5 616,578.5" style="stroke-width:1.5"/>
<path d="M560,591 638,589" style="stroke-width:2.2"/>
<path d="M560,594 590,593"/>
<ellipse cx="599.5" cy="598.5" rx="9.5" ry="3.8" transform="rotate(-3 599.5 598.5)" style="stroke-width:1.5"/>
<path d="M560,606 643,603" style="stroke-width:2.5"/>
<path d="M560,609.5 630,607" style="stroke-width:1.2"/>
<path d="M628,604 634,598 643,598 642,608" style="stroke-width:1.5"/>
<path d="M634,600 634,606" style="stroke-width:2.5"/>
<path d="M560,615 643,612"/>
<path d="M560,619.5 644,617" style="stroke-width:1.5"/>
<path d="M572,622.5 590,622" style="stroke-width:1.5"/>
<path d="M600,621.5 612,621" style="stroke-width:1.5"/>
<path d="M560,630 628,627" style="stroke-width:1.5"/>
<path d="M560,634 622,631.5"/>
<path d="M560,638.5 644,635" style="stroke-width:3.5"/>
<path d="M644,634 644,640" style="stroke-width:2"/>
<path d="M570,637.5 640,634.5" style="stroke-width:1;stroke-dasharray:8 5;stroke:#fff"/>
<path d="M560,651 640,652 638,665 560,665Z" style="stroke-width:1;fill:#000"/>
<path d="M580,657.5 630,658" style="stroke-width:1.2;stroke-dasharray:7 9;stroke:#fff"/>
<path d="M432,602 540,596" style="stroke-width:2"/>
<path d="M434,610 538,603.5" style="stroke-width:1.5"/>
<path d="M434,606 500,602" style="stroke-width:1.2"/>
<path d="M440,613 500,609"/>
<path d="M498,594 506,612" style="stroke-width:4"/>
<path d="M504,596 512,618" style="stroke-width:4.5"/>
<path d="M510,598 520,606" style="stroke-width:4"/>
<path d="M514,604 522,622" style="stroke-width:4"/>
<path d="M498,600 520,598" style="stroke-width:2.5"/>
<path d="M506,612 522,614" style="stroke-width:3"/>
<path d="M516,596 528,600" style="stroke-width:2.5"/>
<path d="M524,598 534,596" style="stroke-width:2"/>
<path d="M458,612 458,630" style="stroke-width:1.5"/>
<path d="M442,630 470,623 538,620" style="stroke-width:1.5"/>
<path d="M442,636 466,625"/>
<path d="M466,624 470,644 462,652" style="stroke-width:1.5"/>
<path d="M470,652C473,649.7 481,641.7 488,638C495,634.3 503.7,632 512,630C520.3,628 533.7,626.7 538,626" style="stroke-width:2"/>
<path d="M466,660C469.3,657.2 479,647 486,643C493,639 499.7,637.7 508,636C516.3,634.3 531.3,633.5 536,633" style="stroke-width:1.5"/>
<path d="M462,664C464.7,661.7 472,653.5 478,650C484,646.5 494.7,644.2 498,643" style="stroke-width:1.5"/>
<path d="M498,642.5 508,636.5 537,636.5 536.5,642.5Z" style="stroke-width:1;fill:#000"/>
<path d="M474,664 484,651 536,651 535,664Z" style="stroke-width:1;fill:#000"/>
<path d="M551,651 562,651 562,665 550,665Z" style="stroke-width:1;fill:#000"/>
<path d="M480,659 530,658" style="stroke-width:1.2;stroke-dasharray:8 14;stroke:#fff"/>
<path d="M553,638.8 562,638.5" style="stroke-width:3.5"/>
<path d="M500,646.5 610,646.5" style="stroke-width:1.5"/>
<circle cx="448" cy="660" r="9" style="stroke-width:2;fill:#fff"/>
<circle cx="448" cy="660" r="5" style="stroke-width:1.5"/>
<circle cx="448" cy="660" r="1.5" style="stroke-width:1;fill:#000"/>
<path d="M455,651 470,658" style="stroke-width:1.5"/>
<path d="M457,655 468,662" style="stroke-width:1.5"/>
<path d="M454,668 466,664" style="stroke-width:1.5"/>
<path d="M440,669 456,672" style="stroke-width:2"/>
<path d="M410,560 424,596" style="stroke-width:1.5"/>
<path d="M428,606 430,614" style="stroke-width:1.5"/>
<path d="M433,625 446,656" style="stroke-width:1.5"/>
<path d="M423,612.7C423.8,614.9 426.5,622.1 428,626C429.5,629.9 430.3,629.3 432,636C433.7,642.7 436.7,659.3 438,666C439.3,672.7 439,669.3 440,676C441,682.7 442.5,695.7 444,706C445.5,716.3 448.2,732.7 449,738" style="stroke-width:1.5"/>
<path d="M426,604 430,618"/>
<path d="M448,675 540,677" style="stroke-width:1.5"/>
<path d="M441,676 458,678"/>
<path d="M472,680 610,684" style="stroke-width:1.5"/>
<path d="M474,684 610,688" style="stroke-width:2.5"/>
<path d="M476,688 610,691" style="stroke-width:1.5"/>
<path d="M472,692 610,695" style="stroke-width:3"/>
<path d="M474,696 610,699" style="stroke-width:1.5"/>
<path d="M476,700 610,703" style="stroke-width:2.5"/>
<path d="M472,704 610,707" style="stroke-width:1.5"/>
<path d="M474,708 610,711"/>
<path d="M476,713 610,716" style="stroke-width:2"/>
<path d="M520,684 570,696" style="stroke-width:4"/>
<path d="M530,682 560,690" style="stroke-width:3"/>
<path d="M540,693 572,698" style="stroke-width:3;stroke-dasharray:3 2"/>
<path d="M610,684 630,690"/>
<path d="M610,716 630,720" style="stroke-width:1.5"/>
<path d="M560,680 638,667" style="stroke-width:3.5"/>
<path d="M560,688 636,672" style="stroke-width:2.5"/>
<path d="M560,674 600,668" style="stroke-width:2"/>
<path d="M575,681 625,671.5" style="stroke-width:1;stroke-dasharray:2 3;stroke:#fff"/>
<path d="M630,680C631,679.3 634.7,678 636,676C637.3,674 637.7,669.3 638,668" style="stroke-width:1.5"/>
<path d="M560,692 632,690" style="stroke-width:2"/>
<path d="M572,697 628,695" style="stroke-width:1.5"/>
<path d="M560,701 620,700" style="stroke-width:2.5"/>
<path d="M610,696 603,714"/>
<path d="M624,696 624,712"/>
<path d="M560,706 606,707" style="stroke-width:1.5"/>
<path d="M604,714 626,713 630,720" style="stroke-width:2"/>
<path d="M458,678 466,740"/>
<path d="M462,678 467,740" style="stroke-width:1.8;stroke-dasharray:5 1.5"/>
<path d="M466,678 471,742.5" style="stroke-width:1.8;stroke-dasharray:5 1.5"/>
<path d="M470,678 475,745" style="stroke-width:1.8;stroke-dasharray:5 1.5"/>
<path d="M474,678 479,747.5" style="stroke-width:1.8"/>
<path d="M566,684.5 636,670" style="stroke-width:5"/>
<path d="M580,682 630,672" style="stroke-width:1;stroke-dasharray:3 3;stroke:#fff"/>
<path d="M524,690 578,698" style="stroke-width:4"/>
<path d="M536,688 566,693" style="stroke-width:1;stroke-dasharray:2 4;stroke:#fff"/>
<path d="M590,692 626,684" style="stroke-width:3"/>
<circle cx="632" cy="679" r="3" style="stroke-width:2.5"/>
</g>
<g>
<!-- panel E: quarter panel 17-19 -->
<path d="M695,666C695,669.2 694.7,685.2 695,690C695.3,694.8 695.3,698.8 697,702C698.7,705.2 706.5,712.4 708,714" style="stroke-width:2"/>
<path d="M708,714 709,812 713,822 715,834 729,833 729,794 754,794" style="stroke-width:2"/>
<path d="M703,666C703.2,670 703.5,683 704,690C704.5,697 705.7,705 706,708" style="stroke-width:1.8"/>
<ellipse cx="710" cy="812" rx="2.5" ry="4" style="stroke-width:2"/>
<path d="M731,665 733,706" style="stroke-width:2"/>
<path d="M738,666 742,706" style="stroke-width:2"/>
<path d="M735,690 740,690" style="stroke-width:4.1"/>
<path d="M736,694 736,706" style="stroke-width:3.4"/>
<path d="M744,668C744.3,676.7 745.3,708.7 746,720C746.7,731.3 747,729 748,736C749,743 750.7,753.3 752,762C753.3,770.7 755.3,783.7 756,788" style="stroke-width:2.4"/>
<path d="M750,668C750.3,676.7 751.2,704.7 752,720C752.8,735.3 754,750 755,760C756,770 757.5,776.7 758,780" style="stroke-width:2"/>
<path d="M709,714 732,707 743,709" style="stroke-width:2.7"/>
<path d="M716,716 720,830" style="stroke-width:2.4"/>
<path d="M712,716 715,800" style="stroke-width:1.6"/>
<path d="M716,712 724,709" style="stroke-width:4.7"/>
<path d="M731,734C731,732.7 730.5,728.3 731,726C731.5,723.7 732,721.7 734,720C736,718.3 741.5,716.7 743,716" style="stroke-width:3.4"/>
<path d="M734,736C734.1,734.7 734,730.2 734.5,728C735,725.8 735.4,724.3 737,723C738.6,721.7 742.8,720.5 744,720" style="stroke-width:1.8"/>
<path d="M734,740C734.3,743.3 734.7,755.3 736,760C737.3,764.7 739.7,766.3 742,768C744.3,769.7 748.7,769.7 750,770" style="stroke-width:1.8"/>
<path d="M759,666C759,669.2 758.7,685.5 759,690C759.3,694.5 759.5,697.3 761,700C762.5,702.7 768.8,708.7 770,710" style="stroke-width:2.4"/>
<path d="M777,666 778,688" style="stroke-width:2"/>
<path d="M778,688 762,690" style="stroke-width:1.8"/>
<path d="M763,668C763,670.7 762.3,683.7 763,688C763.7,692.3 766.5,697.6 768,700C769.5,702.4 773.2,705.2 774,706" style="stroke-width:1.6"/>
<circle cx="763" cy="694" r="1.5" style="stroke-width:1.6"/>
<circle cx="771" cy="697" r="1.2" style="stroke-width:1;fill:#000"/>
<circle cx="780" cy="708" r="2.5" style="stroke-width:1;fill:#000"/>
<path d="M772,714C772.3,716.7 773.3,724.3 774,730C774.7,735.7 774.3,739 776,748C777.7,757 780.7,773.7 784,784C787.3,794.3 794,805.7 796,810" style="stroke-width:2.7"/>
<path d="M796,810C798.3,812 802.3,817 810,822C817.7,827 827,833 842,840C857,847 890.3,860 900,864" style="stroke-width:5.4"/>
<path d="M757,788C759.2,791 762.5,800.7 770,806C777.5,811.3 790,813.7 802,820C814,826.3 827.3,836.3 842,844C856.7,851.7 882,862.3 890,866" style="stroke-width:2.4"/>
<path d="M776,716C776.7,721.7 778,738.3 780,750C782,761.7 784.7,775.7 788,786C791.3,796.3 798,807.7 800,812" style="stroke-width:1.8"/>
<path d="M720,743.7 744,736" style="stroke-width:2"/>
<path d="M720,749 745,741" style="stroke-width:2"/>
<path d="M706,751 744,738.5" style="stroke-width:1;stroke-dasharray:3 2"/>
<path d="M761,749 772,741 773,758Z" style="stroke-width:3.4"/>
<path d="M748,732 772,720" style="stroke-width:2"/>
<path d="M750,740 773,730" style="stroke-width:2"/>
<path d="M750,762 774,759" style="stroke-width:1.8"/>
<path d="M748,728 752,742" style="stroke-width:1.6"/>
<path d="M712,771 756,770" style="stroke-width:3.4"/>
<path d="M712,776 740,778" style="stroke-width:1.8"/>
<path d="M716,780C717,781.3 719.8,785.7 722,788C724.2,790.3 727.8,793 729,794" style="stroke-width:1.8"/>
<path d="M737,780 737,788 742,788 742,780" style="stroke-width:2.7"/>
<rect x="747" y="816" width="3" height="3" style="stroke-width:1;fill:#000"/>
<path d="M789,672 822,696" style="stroke-width:3.4"/>
<path d="M793,668 812,682" style="stroke-width:1.8"/>
<path d="M805,665C805.1,669.7 806.4,691.6 806,700C805.6,708.4 803.9,723.2 802,728C800.1,732.8 793.6,730.7 792,736C790.4,741.3 790.3,763.7 790,768" style="stroke-width:2"/>
<path d="M813,666C812.8,671.7 812.8,689.3 812,700C811.2,710.7 808.7,725 808,730" style="stroke-width:2"/>
<path d="M790,674 790,692" style="stroke-width:4.1;stroke-dasharray:5 2"/>
<path d="M800,700 812,703" style="stroke-width:1.8"/>
<path d="M798,714 810,718" style="stroke-width:1.8"/>
<path d="M795,726 806,730" style="stroke-width:1.8"/>
<path d="M792,734 800,724 806,726" style="stroke-width:2"/>
<path d="M788,768C789,767.7 791,767.3 794,766C797,764.7 803,763.7 806,760C809,756.3 810,750.7 812,744C814,737.3 815.7,727 818,720C820.3,713 824.7,705 826,702" style="stroke-width:4.1"/>
<path d="M790,762C792,761 799,759.3 802,756C805,752.7 805.8,748.7 808,742C810.2,735.3 813.8,720.3 815,716" style="stroke-width:1.8"/>
<path d="M790,752C791.3,751.7 795.7,752.3 798,750C800.3,747.7 803,740 804,738" style="stroke-width:2"/>
<circle cx="797" cy="776" r="1.8" style="stroke-width:1;fill:#000"/>
<path d="M850,667 844,682 814,780 814,788" style="stroke-width:2.4"/>
<path d="M838,696 818,778" style="stroke-width:1.8"/>
<path d="M828,702 810,776" style="stroke-width:2"/>
<path d="M822,702 830,704 834,698" style="stroke-width:2"/>
<path d="M844,682C846,682.2 852.7,683.3 856,683C859.3,682.7 861.8,681.8 864,680C866.2,678.2 867.8,674.3 869,672C870.2,669.7 870.7,667 871,666" style="stroke-width:3.4"/>
<path d="M848,676C849.7,676.2 855.3,677.7 858,677C860.7,676.3 863,672.8 864,672" style="stroke-width:1.8"/>
<ellipse cx="852" cy="694" rx="4" ry="4.6" transform="rotate(15 852 694)" style="stroke-width:2.7"/>
<ellipse cx="878" cy="698" rx="4" ry="4.6" transform="rotate(15 878 698)" style="stroke-width:2.7"/>
<ellipse cx="833" cy="740" rx="4" ry="4.6" transform="rotate(15 833 740)" style="stroke-width:2.7"/>
<ellipse cx="841" cy="755" rx="4" ry="4.6" transform="rotate(15 841 755)" style="stroke-width:2.7"/>
<ellipse cx="860" cy="765" rx="4" ry="4.6" transform="rotate(15 860 765)" style="stroke-width:2.7"/>
<ellipse cx="903.5" cy="709.5" rx="4" ry="4.6" transform="rotate(15 903.5 709.5)" style="stroke-width:2.7"/>
<ellipse cx="897" cy="745" rx="4" ry="4.6" transform="rotate(15 897 745)" style="stroke-width:2.7"/>
<circle cx="859" cy="669" r="1.8" style="stroke-width:1.6"/>
<circle cx="832" cy="704" r="1.8" style="stroke-width:1.6"/>
<circle cx="878" cy="728" r="1.8" style="stroke-width:1.6"/>
<circle cx="872" cy="742" r="1.8" style="stroke-width:1.6"/>
<path d="M844,698C846,699.7 851.7,704.3 856,708C860.3,711.7 865.3,717 870,720C874.7,723 879.7,724.8 884,726C888.3,727.2 894,726.8 896,727" style="stroke-width:2.7"/>
<path d="M843,701C845,702.7 850.7,707.3 855,711C859.3,714.7 864.3,720 869,723C873.7,726 878.7,727.8 883,729C887.3,730.2 893,729.8 895,730" style="stroke-width:2"/>
<path d="M832,730C835,729.9 843.7,729.5 850,729.5C856.3,729.5 864.3,729.4 870,730C875.7,730.6 880.2,731.7 884,733C887.8,734.3 891.5,737.2 893,738" style="stroke-width:3.4"/>
<path d="M832,733C835,732.9 843.7,732.5 850,732.5C856.3,732.5 864.3,732.4 870,733C875.7,733.6 880.2,734.7 884,736C887.8,737.3 891.5,740.2 893,741" style="stroke-width:1.6"/>
<path d="M896,727C897,727.5 900.8,728.2 902,730C903.2,731.8 903.7,735.7 903,738C902.3,740.3 900.2,743.3 898,744C895.8,744.7 892,743.5 890,742C888,740.5 886.7,736.2 886,735" style="stroke-width:3.4"/>
<path d="M882,736 870,762" style="stroke-width:2"/>
<path d="M886,738 874,764" style="stroke-width:1.8;stroke-dasharray:2 1.5"/>
<path d="M813,778 858,788" style="stroke-width:2"/>
<path d="M858,776 858,796" style="stroke-width:1.8"/>
<path d="M858,778C861,777.8 870.7,778 876,777C881.3,776 886,774.2 890,772C894,769.8 898.3,765.3 900,764" style="stroke-width:2"/>
<path d="M858,788C861,787.8 870.3,788 876,787C881.7,786 887.3,784.2 892,782C896.7,779.8 902,775.3 904,774" style="stroke-width:1.8"/>
<path d="M790,788 814,780" style="stroke-width:2"/>
<path d="M792,794 815,786" style="stroke-width:1.8"/>
<path d="M794,800 818,792" style="stroke-width:2"/>
<path d="M815,792 846,803" style="stroke-width:2"/>
<path d="M818,786 848,796" style="stroke-width:1.8"/>
<path d="M802,804 842,814" style="stroke-width:2.7"/>
<path d="M806,810 836,818" style="stroke-width:1.8"/>
<path d="M800,806 812,802" style="stroke-width:4.7"/>
<path d="M816,812 822,816" style="stroke-width:4.1"/>
<path d="M833,808 834,822 842,824 843,806" style="stroke-width:2.7"/>
<circle cx="838" cy="821" r="3" style="stroke-width:2"/>
<path d="M846,812 880,802" style="stroke-width:2.7"/>
<path d="M850,818 884,808" style="stroke-width:3.4"/>
<path d="M846,824 890,812" style="stroke-width:2"/>
<path d="M856,806 876,800" style="stroke-width:5.4;stroke-dasharray:3 2"/>
<path d="M812,832 813,862 838,862 838,840" style="stroke-width:2"/>
<path d="M846,846 846,860" style="stroke-width:2"/>
<ellipse cx="809" cy="846" rx="1.8" ry="2.5" style="stroke-width:1.6"/>
<ellipse cx="832" cy="850" rx="1.5" ry="2.5" style="stroke-width:1.6"/>
<path d="M818,862 846,864 860,862" style="stroke-width:2.7"/>
<circle cx="832" cy="863" r="3" style="stroke-width:1;fill:#000"/>
<path d="M838,840 852,846 852,860" style="stroke-width:2"/>
<path d="M739,842 757,866" style="stroke-width:1.8"/>
<path d="M767,849 767,868" style="stroke-width:2"/>
<path d="M770,850 790,859 790,868" style="stroke-width:2"/>
<path d="M771,852 771,868" style="stroke-width:1.8"/>
</g>
<g>
<!-- panel E right part -->
<path d="M914,706C914.3,703.3 914.3,695 916,690C917.7,685 921,679.7 924,676C927,672.3 930.3,670 934,668C937.7,666 944,664.7 946,664" style="stroke-width:4.7"/>
<path d="M920,690C921.3,688.3 924.7,682.7 928,680C931.3,677.3 935.7,675.5 940,674C944.3,672.5 949.7,671.7 954,671C958.3,670.3 964,670.2 966,670" style="stroke-width:2"/>
<path d="M946,664C947.7,665 954.2,667.3 956,670C957.8,672.7 956,677.7 957,680C958,682.3 961.2,683.3 962,684" style="stroke-width:2"/>
<path d="M890,672C890.5,675 891.7,686 893,690C894.3,694 895.2,694.3 898,696C900.8,697.7 908,699.3 910,700" style="stroke-width:2"/>
<path d="M892,672 900,668" style="stroke-width:1.8"/>
<ellipse cx="905" cy="681" rx="2.2" ry="1.5" style="stroke-width:1;fill:#000"/>
<path d="M908,665 916,692 926,720 934,744" style="stroke-width:3"/>
<path d="M911,665 918,688" style="stroke-width:1.6"/>
<path d="M888,706C888.3,703.3 889,691.7 890,690C891,688.3 893.3,695 894,696" style="stroke-width:1.8"/>
<path d="M886,740C886.2,736 886,722.7 887,716C888,709.3 890.3,704 892,700C893.7,696 896.2,693.3 897,692" style="stroke-width:1.8"/>
<path d="M890,742C890.2,738 890,724.7 891,718C892,711.3 895.2,704.7 896,702" style="stroke-width:1.8"/>
<path d="M894,740 894,790" style="stroke-width:1.8"/>
<path d="M915,722 913,730" style="stroke-width:2.7"/>
<path d="M912,734 910,742" style="stroke-width:1.6;stroke-dasharray:3 2"/>
<path d="M930,716C930.2,713.3 930,704 931,700C932,696 933.8,693.8 936,692C938.2,690.2 940.7,689 944,689C947.3,689 952.7,689.5 956,692C959.3,694.5 961.7,697.7 964,704C966.3,710.3 968.7,722.3 970,730C971.3,737.7 971.7,746.7 972,750" style="stroke-width:2.7"/>
<path d="M934,716C934.3,713.7 934.7,705.3 936,702C937.3,698.7 939.3,696.8 942,696C944.7,695.2 949.3,695.3 952,697C954.7,698.7 956,700.5 958,706C960,711.5 962.7,723 964,730C965.3,737 965.7,745 966,748" style="stroke-width:2"/>
<path d="M936,700 944,700 952,716 960,748 952,750" style="stroke-width:2"/>
<path d="M940,706 948,720 954,746" style="stroke-width:1.8"/>
<path d="M944,704 952,720" style="stroke-width:1.8"/>
<path d="M932,718 936,740 944,756" style="stroke-width:3.4"/>
<path d="M936,720 940,738 948,752" style="stroke-width:2.7"/>
<path d="M928,712 932,736" style="stroke-width:2.7;stroke-dasharray:3 1.5"/>
<path d="M956,692 972,688 980,700" style="stroke-width:2"/>
<path d="M960,684 976,680" style="stroke-width:2"/>
<path d="M962,676 976,670" style="stroke-width:3.4"/>
<path d="M966,690 968,700 978,704" style="stroke-width:2.7"/>
<path d="M970,694 980,698" style="stroke-width:3.4"/>
<path d="M972,672C973,674 976.5,679.3 978,684C979.5,688.7 981.3,695.3 981,700C980.7,704.7 976.8,710 976,712" style="stroke-width:1.8"/>
<path d="M952,750 966,754 972,750" style="stroke-width:2.7"/>
<path d="M948,744 960,748" style="stroke-width:4.1"/>
<ellipse cx="974" cy="735" rx="3.2" ry="5" transform="rotate(10 974 735)" style="stroke-width:2.7"/>
<path d="M906,756 912,748 914,756 920,746 922,756 927,746 928,756" style="stroke-width:2.7"/>
<path d="M908,758 930,754" style="stroke-width:2.7"/>
<path d="M898,768 906,772 906,784 898,782" style="stroke-width:2.7"/>
<path d="M900,774 900,782" style="stroke-width:3.4"/>
<path d="M903,775 903,783" style="stroke-width:2.7"/>
<path d="M890,782 912,786" style="stroke-width:5.4"/>
<path d="M894,790 912,793" style="stroke-width:1.8"/>
<circle cx="915" cy="781" r="3" style="stroke-width:1;fill:#000"/>
<path d="M906,790 916,800" style="stroke-width:5.4"/>
<path d="M898,792 904,806" style="stroke-width:3.4;stroke-dasharray:3 2"/>
<path d="M894,796 900,812" style="stroke-width:2.7;stroke-dasharray:2 2"/>
<path d="M888,800 884,830 878,850" style="stroke-width:1.8;stroke-dasharray:5 3"/>
<path d="M892,820 886,850" style="stroke-width:1.8;stroke-dasharray:4 3"/>
<path d="M900,808 892,846" style="stroke-width:1.8;stroke-dasharray:6 3"/>
<path d="M882,812 872,846" style="stroke-width:1.8"/>
<path d="M916,762 934,752 960,764 944,776" style="stroke-width:2"/>
<path d="M934,752 934,760 954,770" style="stroke-width:1.8"/>
<path d="M936,762C937.3,761.3 941.3,758 944,758C946.7,758 951.3,760.3 952,762C952.7,763.7 948.7,767 948,768" style="stroke-width:3.4"/>
<path d="M908,800 972,764" style="stroke-width:2.4"/>
<path d="M912,804 976,768" style="stroke-width:2.4"/>
<path d="M924,806C924.7,804.7 924.7,801 928,798C931.3,795 936,790.7 944,788C952,785.3 970.7,783 976,782" style="stroke-width:2"/>
<path d="M928,808C928.7,806.8 929,803.7 932,801C935,798.3 938.7,794.5 946,792C953.3,789.5 971,787 976,786" style="stroke-width:1.8"/>
<path d="M976,782 977,794" style="stroke-width:2"/>
<path d="M922,804 922,816 930,816 930,804" style="stroke-width:2"/>
<path d="M956,792 956,802 960,802 960,792" style="stroke-width:1.8"/>
<path d="M977,804 977,806" style="stroke-width:2.7"/>
<path d="M900,835 944,815" style="stroke-width:3"/>
<path d="M906,840 950,820" style="stroke-width:3"/>
<path d="M944,815C944.8,815.2 948,815.2 949,816C950,816.8 949.8,819.3 950,820" style="stroke-width:2.7"/>
<path d="M904,837.5 947,817.5" style="stroke-width:1;stroke-dasharray:2 2"/>
<path d="M908,843 958,824" style="stroke-width:3"/>
<path d="M914,848 964,829" style="stroke-width:3"/>
<path d="M958,824C958.8,824.2 962,824.2 963,825C964,825.8 963.8,828.3 964,829" style="stroke-width:2.7"/>
<path d="M912,845.5 961,826.5" style="stroke-width:1;stroke-dasharray:2 2"/>
<path d="M924,852 980,830" style="stroke-width:3"/>
<path d="M930,857 986,835" style="stroke-width:3"/>
<path d="M980,830C980.8,830.2 984,830.2 985,831C986,831.8 985.8,834.3 986,835" style="stroke-width:2.7"/>
<path d="M928,854.5 983,832.5" style="stroke-width:1;stroke-dasharray:2 2"/>
<path d="M888,816 924,804" style="stroke-width:2"/>
<path d="M892,826 930,812" style="stroke-width:2.7"/>
<path d="M880,836 900,830" style="stroke-width:3.4"/>
<path d="M942,826 942,832" style="stroke-width:3.4"/>
<path d="M860,828 888,820" style="stroke-width:2.7"/>
<path d="M864,836 890,828" style="stroke-width:2"/>
<path d="M850,836 872,846" style="stroke-width:2.7"/>
<path d="M890,856 980,868" style="stroke-width:4.7"/>
<path d="M880,850 900,856" style="stroke-width:4.1"/>
<path d="M876,846 894,852" style="stroke-width:1.5;stroke-dasharray:2 3;stroke:#fff"/>
</g>
<g>
<!-- panel E extra density on floor -->
<path d="M790,814C793.7,816 802,821 812,826C822,831 835.3,838.2 850,844C864.7,849.8 891.7,858.2 900,861" style="stroke-width:4.5"/>
<path d="M796,824C801.7,827 817.7,836.3 830,842C842.3,847.7 855,853.7 870,858C885,862.3 911.7,866.3 920,868" style="stroke-width:2"/>
<path d="M790,808C795,810.3 809,816.7 820,822C831,827.3 850,837 856,840" style="stroke-width:2"/>
<path d="M838,830 881,815" style="stroke-width:3.5"/>
<path d="M847,836 882,823" style="stroke-width:2.5"/>
<path d="M853,844 880,834" style="stroke-width:3"/>
<path d="M800,800 826,790" style="stroke-width:3"/>
<path d="M812,814 846,803" style="stroke-width:2"/>
<path d="M862,850 892,838" style="stroke-width:3"/>
<path d="M870,856 900,846" style="stroke-width:2.5"/>
<path d="M836,822 860,813" style="stroke-width:2"/>
<path d="M897,836 942,817" style="stroke-width:3"/>
<path d="M942,817C942.8,817 946,816.3 947,817C948,817.7 948.5,820 948,821C947.5,822 944.7,822.7 944,823" style="stroke-width:2.5"/>
<path d="M905,842 944,823" style="stroke-width:2.5"/>
<path d="M905,845 957,831" style="stroke-width:3"/>
<path d="M957,831C957.8,831 961,830.3 962,831C963,831.7 963.5,834 963,835C962.5,836 959.7,836.7 959,837" style="stroke-width:2.5"/>
<path d="M913,851 959,837" style="stroke-width:2.5"/>
<path d="M923,852 978,838" style="stroke-width:3"/>
<path d="M978,838C978.8,838 982,837.3 983,838C984,838.7 984.5,841 984,842C983.5,843 980.7,843.7 980,844" style="stroke-width:2.5"/>
<path d="M931,858 980,844" style="stroke-width:2.5"/>
<path d="M889,855 978,867.6" style="stroke-width:3"/>
<path d="M880,848 930,858" style="stroke-width:2.5"/>
<path d="M890,780 908,784" style="stroke-width:5"/>
<path d="M908,790 920,800" style="stroke-width:5"/>
<path d="M896,770 896,782" style="stroke-width:3"/>
<path d="M900,771 900,783" style="stroke-width:3"/>
<path d="M894,790 892,806" style="stroke-width:3;stroke-dasharray:4 2"/>
<path d="M900,792 897,812" style="stroke-width:2.5;stroke-dasharray:3 2"/>
<path d="M884,812 876,850" style="stroke-width:2.5;stroke-dasharray:6 3"/>
<path d="M890,816 884,852" style="stroke-width:2.5;stroke-dasharray:5 3"/>
<path d="M833,806 834,822" style="stroke-width:3"/>
<path d="M842,806 843,822" style="stroke-width:3"/>
<circle cx="838" cy="822" r="3.5" style="stroke-width:2.5"/>
<path d="M806,803 846,815" style="stroke-width:3"/>
<path d="M790,812 800,808" style="stroke-width:4"/>
<path d="M938,706 944,726 950,748" style="stroke-width:3"/>
<path d="M946,702 956,726 960,746" style="stroke-width:2.5"/>
<path d="M930,716 936,718" style="stroke-width:3.5"/>
<path d="M932,724 938,726" style="stroke-width:3.5"/>
<path d="M934,732 940,734" style="stroke-width:3.5"/>
<path d="M936,740 944,742" style="stroke-width:3.5"/>
<path d="M958,690 976,684" style="stroke-width:3"/>
<path d="M962,696 978,692" style="stroke-width:2.5"/>
<path d="M964,680 968,690" style="stroke-width:3"/>
<path d="M972,676 976,688" style="stroke-width:2.5"/>
<path d="M966,700 974,708" style="stroke-width:2.5"/>
<path d="M944,752 958,756 966,752" style="stroke-width:3"/>
<path d="M956,700C957.3,702.7 962,710 964,716C966,722 967.3,732.7 968,736" style="stroke-width:2.5"/>
<path d="M948,708 954,720" style="stroke-width:3.5;stroke-dasharray:3 2"/>
<path d="M710.5,716 711.5,812" style="stroke-width:3"/>
<rect x="733" y="691" width="6.5" height="9" style="stroke-width:1;fill:#000"/>
<path d="M716,714.5 730,710.5" style="stroke-width:5.5"/>
<path d="M758,666C757.9,669.2 757.4,685.5 757.5,690C757.6,694.5 757.9,697.7 759,700C760.1,702.3 764.1,705.4 766,707C767.9,708.6 772.1,711.3 773,712" style="stroke-width:3"/>
<path d="M731,724 731,736" style="stroke-width:4"/>
<path d="M744,690 746,740" style="stroke-width:2.5"/>
<path d="M712,771 756,770" style="stroke-width:3.5"/>
</g>
<g>
<!-- panel F: tail lamp 20 -->
<path d="M194,829C190.3,832.5 179,842.5 172,850C165,857.5 159.3,864.7 152,874C144.7,883.3 134.3,895 128,906C121.7,917 116.8,930 114,940C111.2,950 111.2,961 111,966C110.8,971 112.7,969.3 113,970" style="stroke-width:4.5"/>
<path d="M112,970 138,968" style="stroke-width:3"/>
<path d="M198,833C196,839.2 191,857.8 186,870C181,882.2 173.7,895.3 168,906C162.3,916.7 156.3,926 152,934C147.7,942 144.3,948.3 142,954C139.7,959.7 138.7,965.7 138,968" style="stroke-width:1.5"/>
<path d="M194,829 198,833" style="stroke-width:2.5"/>
<path d="M196,835C192.7,838.3 182.5,847.8 176,855C169.5,862.2 164,869 157,878C150,887 140.2,898.3 134,909C127.8,919.7 122.8,932.8 120,942C117.2,951.2 117.5,960.3 117,964" style="stroke-width:2.5"/>
<path d="M190,842C187,845.3 178.7,854 172,862C165.3,870 156,881.3 150,890C144,898.7 140.3,905.3 136,914C131.7,922.7 126,937.3 124,942" style="stroke-width:1.2;stroke-dasharray:4 1.5"/>
<ellipse cx="160" cy="898" rx="9" ry="11" transform="rotate(30 160 898)" style="stroke-width:3"/>
<ellipse cx="160" cy="898" rx="4.5" ry="6" transform="rotate(30 160 898)" style="stroke-width:1.5"/>
<ellipse cx="142" cy="924" rx="7.5" ry="9" transform="rotate(30 142 924)" style="stroke-width:3"/>
<circle cx="143" cy="925" r="3" style="stroke-width:1.5;fill:#000"/>
<circle cx="181" cy="869" r="5.5" style="stroke-width:1;fill:#000"/>
<circle cx="176" cy="866" r="2.5" style="stroke-width:1.5;fill:#fff"/>
<path d="M170,872 186,880" style="stroke-width:2"/>
<path d="M166,880 180,888" style="stroke-width:1.5"/>
<path d="M150,908 166,914" style="stroke-width:2"/>
<path d="M146,914 160,922" style="stroke-width:1.5"/>
<path d="M176,850 190,856" style="stroke-width:1.5"/>
<path d="M172,856 186,862" style="stroke-width:2"/>
<path d="M184,848 186,868" style="stroke-width:1.5"/>
<path d="M132,936 148,942" style="stroke-width:2"/>
<path d="M128,944 140,950" style="stroke-width:1.5"/>
<path d="M116,954 132,948 138,966" style="stroke-width:1.5"/>
<path d="M116,964 130,950"/>
<path d="M124,944 136,960" style="stroke-width:1.5"/>
<circle cx="130" cy="948" r="2.5" style="stroke-width:1.5"/>
<path d="M188,846C185,849.3 176,858.3 170,866C164,873.7 157,884 152,892C147,900 143.7,906 140,914C136.3,922 131.7,935.7 130,940" style="stroke-width:2"/>
<path d="M192,850C189.3,853.7 179.3,866.3 176,872C172.7,877.7 172.7,882 172,884" style="stroke-width:2.5"/>
<path d="M150,900C149.3,902 146,908.3 146,912C146,915.7 149.3,920.3 150,922" style="stroke-width:2.5"/>
<path d="M170,884C170.3,886.7 172.7,895.7 172,900C171.3,904.3 167,908.3 166,910" style="stroke-width:2.5"/>
<path d="M134,926C133.7,927.7 131.3,933 132,936C132.7,939 137,942.7 138,944" style="stroke-width:2.5"/>
<path d="M156,910 150,914" style="stroke-width:3.5"/>
<path d="M176,878 170,886" style="stroke-width:3.5"/>
<path d="M160,880 176,886" style="stroke-width:2"/>
<path d="M140,934 150,940" style="stroke-width:2"/>
<path d="M178,866C179.3,865.3 183.7,862.8 186,862C188.3,861.2 189.3,860.7 192,861C194.7,861.3 199,862.5 202,864C205,865.5 207.3,868 210,870C212.7,872 215.7,874.7 218,876C220.3,877.3 222,878 224,878C226,878 229,876.3 230,876" style="stroke-width:1.5"/>
<path d="M178,863.5C179.3,862.8 183.7,860.3 186,859.5C188.3,858.7 189.3,858.2 192,858.5C194.7,858.8 199,860 202,861.5C205,863 207.3,865.5 210,867.5C212.7,869.5 215.7,872.2 218,873.5C220.3,874.8 222,875.5 224,875.5C226,875.5 229,873.8 230,873.5"/>
<circle cx="232" cy="873" r="4.5" style="stroke-width:1;fill:#000"/>
<path d="M229,871 231,875" style="stroke-width:1;stroke:#fff"/>
<path d="M198,850 220,853"/>
<path d="M232,854.5 240,855.5"/>
<path d="M192,878 211,862"/>
<path d="M164,878 198,882"/>
<path d="M210,883 218,884"/>
<path d="M194,846 200,856" style="stroke-width:2"/>
<path d="M190,848 198,850" style="stroke-width:2"/>
<path d="M144,949 177,951"/>
<path d="M188,952 198,953"/>
<path d="M208,953.6 440,971 460,973"/>
<path d="M470,973.6 479,974"/>
<path d="M489,975C491.7,975.2 499.8,976.3 505,976.5C510.2,976.7 514.2,977.8 520,976C525.8,974.2 534.7,969 540,966C545.3,963 550,959.3 552,958"/>
<path d="M234,870C236,868.1 251.6,853 254,851C256.4,849 257.2,849.5 258,849.5C258.8,849.5 258.4,847.5 262,851C265.6,854.5 290.8,880.7 294,884"/>
<path d="M300,893 305,898"/>
<path d="M312,906C315.8,909.9 345.7,940.9 350,945C354.3,949.1 354,947 355,947C356,947 355.9,949 360,945C364.1,941 392.4,910.8 396,907"/>
<path d="M322,908 328,906"/>
<path d="M338,902 368,892"/>
<path d="M376,930 384,928"/>
<path d="M394,924 420,915"/>
<circle cx="388.5" cy="956" r="3.8" style="stroke-width:1;fill:#000"/>
<circle cx="387.5" cy="955" r="1" style="stroke-width:1;fill:#fff;stroke:#fff"/>
<path d="M394,954 400,952.4"/>
<path d="M184,852C181,855.7 172.3,865.7 166,874C159.7,882.3 151.7,892.7 146,902C140.3,911.3 135.7,921.7 132,930C128.3,938.3 125.3,948.3 124,952" style="stroke-width:2.5"/>
<path d="M180,862C179.3,864.3 178.7,872 176,876C173.3,880 166,884.3 164,886" style="stroke-width:3"/>
<path d="M158,886C156.7,887.3 151.3,890.7 150,894C148.7,897.3 149,903 150,906C151,909 155,911 156,912" style="stroke-width:2.5"/>
<path d="M168,908C166.7,909.3 163,914.3 160,916C157,917.7 151.7,917.7 150,918" style="stroke-width:2.5"/>
<path d="M136,916C135.3,917.7 132,923 132,926C132,929 134,932.3 136,934C138,935.7 142.7,935.7 144,936" style="stroke-width:2.5"/>
<path d="M186,858 192,866" style="stroke-width:3.5"/>
<path d="M170,890 176,896" style="stroke-width:3"/>
<path d="M152,922 156,930" style="stroke-width:3"/>
<path d="M120,958 134,962" style="stroke-width:2.5"/>
<path d="M144,940 140,956" style="stroke-width:2"/>
</g>
<g>
<!-- panel F: liftgate body -->
<path d="M302,800C299.3,805.3 289.7,823 286,832C282.3,841 280.8,846.3 280,854C279.2,861.7 279.8,867.7 281,878C282.2,888.3 286,909.7 287,916"/>
<path d="M287,916 290,920 288,930"/>
<path d="M288,930C289,935 291.3,949.3 294,960C296.7,970.7 300,984.3 304,994C308,1003.7 310.3,1011 318,1018C325.7,1025 334.7,1028 350,1036C365.3,1044 390,1057.3 410,1066C430,1074.7 455,1082.7 470,1088C485,1093.3 474.7,1090.8 500,1098C525.3,1105.2 599.3,1125.3 622,1131C644.7,1136.7 632,1133.5 636,1132C640,1130.5 643.3,1127 646,1122C648.7,1117 649.7,1112 652,1102C654.3,1092 658.2,1070 660,1062C661.8,1054 662.5,1055.3 663,1054"/>
<path d="M306,800C306.3,801.7 306.7,806.7 308,810C309.3,813.3 311,816.7 314,820C317,823.3 324,828.3 326,830" style="stroke-width:3.5"/>
<path d="M326,830.5 384,857 440,880.5 576,924" style="stroke-width:4"/>
<path d="M330,832 384,857 440,880.5 574,923.5" style="stroke-width:1;stroke-dasharray:1 2.5;stroke:#fff"/>
<path d="M310,800C310.7,801.7 310.7,805.7 314,810C317.3,814.3 318.3,819.2 330,826C341.7,832.8 365.7,842.8 384,851C402.3,859.2 410.7,864.5 440,875C469.3,885.5 540,907.5 560,914"/>
<path d="M344,800C344,802.3 342.3,809.7 344,814C345.7,818.3 352.3,824 354,826"/>
<path d="M354,826 426,861 432,853 456,855 507,872"/>
<path d="M507,872C507.3,872.8 509.8,878 510,880C510.2,882 509.1,890.8 509,892"/>
<path d="M509,892 600,915"/>
<path d="M600,915C602.7,915 611,916.2 616,915C621,913.8 626,910.5 630,908C634,905.5 637.2,904 640,900C642.8,896 645.8,886.7 647,884"/>
<path d="M434,856 456,858.5 508,880" style="stroke-width:1.2"/>
<ellipse cx="463" cy="869" rx="3" ry="5" transform="rotate(15 463 869)"/>
<ellipse cx="324" cy="801" rx="2" ry="1" style="stroke-width:1;fill:#000"/>
<circle cx="342" cy="800" r="1.5" style="stroke-width:1;fill:#000"/>
<path d="M284,836 336,869.5" style="stroke-width:2.5"/>
<path d="M282,842 340,879" style="stroke-width:1.5"/>
<path d="M280,866 336,900" style="stroke-width:2"/>
<path d="M342,876 337,900" style="stroke-width:2"/>
<path d="M337,900C337.2,902 338.2,907.7 338,912C337.8,916.3 338,921.5 336,926C334,930.5 327.7,936.8 326,939" style="stroke-width:2"/>
<path d="M290,920 326,939 330,944" style="stroke-width:2"/>
<path d="M289,930 344,961" style="stroke-width:2"/>
<path d="M362,902C361.7,903.7 360.7,909 360,912C359.3,915 360.7,916.3 358,920C355.3,923.7 346.3,931.7 344,934" style="stroke-width:2.5"/>
<path d="M330,936 340,930" style="stroke-width:1.5"/>
<path d="M296,934C304,938.5 323.3,950.2 344,961C364.7,971.8 397.7,989.3 420,999C442.3,1008.7 454.7,1012.5 478,1019C501.3,1025.5 530,1030.7 560,1038C590,1045.3 641.7,1058.8 658,1063" style="stroke-width:3.6"/>
<path d="M296,934C304,938.5 323.3,950.2 344,961C364.7,971.8 397.7,989.3 420,999C442.3,1008.7 454.7,1012.5 478,1019C501.3,1025.5 530,1030.7 560,1038C590,1045.3 641.7,1058.8 658,1063" style="stroke-width:1;stroke-dasharray:1 2.5;stroke:#fff"/>
<path d="M346,958C358.3,964 398,984.7 420,994C442,1003.3 454.7,1007.5 478,1014C501.3,1020.5 546.3,1029.8 560,1033" style="stroke-width:1.2"/>
<path d="M334,868.5C337.5,870.2 345.1,874.4 354.8,878.9C364.4,883.4 377.6,889.4 392,895.5C406.4,901.6 426.2,910.2 441.4,915.7C456.6,921.2 464.6,922.9 483,928.7C501.4,934.5 538.7,946.5 551.5,950.6C564.3,954.7 558.6,952.9 560,953.4" style="stroke-width:5.5"/>
<path d="M560,953.4C561.7,953.9 563.3,955.2 570,956.5C576.7,957.8 590,959.2 600,961C610,962.8 619.3,965 630,967C640.7,969 658.3,972 664,973" style="stroke-width:2.5"/>
<path d="M414,917 460,936 500,950" style="stroke-width:5"/>
<path d="M414,915.7 460,934.7 500,948.7" style="stroke-width:1;stroke-dasharray:1 2;stroke:#fff"/>
<path d="M414,918.5 460,937.5 500,951.5" style="stroke-width:1;stroke-dasharray:1 2;stroke:#fff"/>
<path d="M420,922 470,938" style="stroke-width:1.5"/>
<path d="M424,928 462,940"/>
<path d="M422,934C423.7,933.7 429.3,931.3 432,932C434.7,932.7 437.3,935.7 438,938C438.7,940.3 436.3,944.7 436,946" style="stroke-width:3"/>
<path d="M426,940 432,944" style="stroke-width:2"/>
<path d="M470,962C471.6,961.7 478.8,960.3 482,960C485.2,959.7 491.7,959.2 494,960C496.3,960.8 498.5,960.9 499,966C499.5,971.1 498.1,993.7 498,998" style="stroke-width:1.5"/>
<path d="M472,966C474.4,965.7 486.9,963.6 490,964C493.1,964.4 494.5,964.7 495,969C495.5,973.3 494.1,992.4 494,996"/>
<path d="M474,956 486,962" style="stroke-width:3"/>
<path d="M480,952 490,958" style="stroke-width:2"/>
<path d="M418,930C417.3,933.3 414.8,942.5 414,950C413.2,957.5 412.3,968.7 413,975C413.7,981.3 415.2,985.2 418,988C420.8,990.8 426.3,991 430,992C433.7,993 438.3,993.7 440,994" style="stroke-width:2.5"/>
<path d="M422,934C421.5,937 419.7,945.3 419,952C418.3,958.7 417.5,968.7 418,974C418.5,979.3 421.3,982.3 422,984"/>
<ellipse cx="428" cy="982" rx="5.5" ry="6.5" style="stroke-width:4.5"/>
<circle cx="428.5" cy="982" r="1.5" style="stroke-width:1;fill:#fff;stroke:#fff"/>
<ellipse cx="477" cy="1000" rx="6" ry="7" style="stroke-width:4.5"/>
<circle cx="477.5" cy="1000" r="1.8" style="stroke-width:1;fill:#fff;stroke:#fff"/>
<path d="M420,990 472,1008" style="stroke-width:2"/>
<path d="M422,986 470,1003"/>
<path d="M492,978 488,1006"/>
<path d="M495,978 491,1006"/>
<path d="M498,998 494,1008"/>
<path d="M488,1006C488.3,1007 488.7,1011.3 490,1012C491.3,1012.7 495,1010.3 496,1010"/>
<path d="M418,932 494,956" style="stroke-width:3"/>
<path d="M423,938 490,959.5" style="stroke-width:1.5"/>
<path d="M500,956 508,974 514,958 518,970 524,960" style="stroke-width:1.8"/>
<path d="M506,994 511,1007 516,998 532,1003 547,997 544,966" style="stroke-width:1.5"/>
<path d="M504,976 500,996 506,994" style="stroke-width:1.5"/>
<path d="M506,960 503,990" style="stroke-width:2"/>
<circle cx="518" cy="987" r="4" style="stroke-width:1.5"/>
<path d="M515,985 521,989" style="stroke-width:2"/>
<path d="M516,990 520,984" style="stroke-width:1.5"/>
<path d="M570,914C571,915.3 574.7,919.3 576,922C577.3,924.7 578.7,926 578,930C577.3,934 573,943.3 572,946" style="stroke-width:2"/>
<path d="M578,916 584,928 590,920 607,926 611,948 596,955 576,949" style="stroke-width:1.5"/>
<circle cx="584" cy="942" r="4" style="stroke-width:1.5"/>
<path d="M581,940 587,944" style="stroke-width:2"/>
<path d="M582,945 586,939" style="stroke-width:1.5"/>
<path d="M576,950 580,946" style="stroke-width:2"/>
<path d="M544,956 552,954 556,962 548,964" style="stroke-width:2.5"/>
<path d="M424,1053 500,1002 516,989"/>
<path d="M520,985 581,943"/>
<path d="M610,930C615,930.8 630.7,934.5 640,935C649.3,935.5 659.2,934.2 666,933C672.8,931.8 678.5,928.8 681,928" style="stroke-width:3"/>
<path d="M612,930 630,933" style="stroke-width:3"/>
<path d="M560,960C566.7,961.5 588.3,966.5 600,969C611.7,971.5 619.7,973 630,975C640.3,977 656.7,980 662,981" style="stroke-width:2.5"/>
<path d="M564,982C570,983.7 589,989.2 600,992C611,994.8 620.2,996.8 630,999C639.8,1001.2 654.2,1004 659,1005" style="stroke-width:2.5"/>
<path d="M564,966C564.3,970 565.3,984.3 566,990C566.7,995.7 566.7,995.7 568,1000C569.3,1004.3 569.3,1009.7 574,1016C578.7,1022.3 582,1031.7 596,1038C610,1044.3 647.7,1051.3 658,1054" style="stroke-width:2"/>
<path d="M596,1038 658,1054" style="stroke-width:2.5"/>
<path d="M664,974C663.3,976 660.8,981.7 660,986C659.2,990.3 659.2,990.2 659,1000C658.8,1009.8 659.2,1036 659,1045C658.8,1054 658.2,1052.5 658,1054" style="stroke-width:3"/>
<path d="M665,972C665.7,975 668.2,978 669,990C669.8,1002 671.2,1032.7 670,1044C668.8,1055.3 663.3,1055.7 662,1058"/>
<path d="M681,928 665,972" style="stroke-width:1.5"/>
<path d="M683,909 676,928" style="stroke-width:3"/>
<path d="M694,900 683,926"/>
<path d="M680,912 674,928"/>
<ellipse cx="650" cy="917" rx="4" ry="3"/>
<path d="M646,915 654,919"/>
<path d="M664,908 668,906" style="stroke-width:1.5"/>
<path d="M300,979C308.3,983 331.3,994 350,1003C368.7,1012 399.7,1026.8 412,1033C424.3,1039.2 422,1038.8 424,1040" style="stroke-width:2.5"/>
<path d="M304,990C307.7,991.7 308,991.8 326,1000C344,1008.2 396,1031.3 412,1039C428,1046.7 419.3,1043.2 422,1046C424.7,1048.8 425.7,1051.3 428,1056C430.3,1060.7 434.7,1071 436,1074" style="stroke-width:2"/>
<path d="M412,1033C414,1034.5 421,1038.5 424,1042C427,1045.5 427.3,1048.3 430,1054C432.7,1059.7 438.3,1072.3 440,1076"/>
<path d="M424,1030 430,1028 470,1043 477,1050 476,1070 470,1073 442,1060 430,1048Z" style="stroke-width:1.5;fill:#000"/>
<path d="M436,1044 440,1040 466,1049 471,1054 471,1064 466,1066 446,1057Z" style="stroke-width:1;fill:#fff;stroke:#fff"/>
<path d="M444,1053 454,1046.5" style="stroke-width:3"/>
<path d="M452,1056.5 462,1050" style="stroke-width:3"/>
<path d="M460,1060 470,1053.5" style="stroke-width:3"/>
<path d="M446,1058 468,1067" style="stroke-width:2"/>
<path d="M482,1092C482,1089.8 481.8,1072.6 482,1070C482.2,1067.4 483.4,1066.5 484,1066C484.6,1065.5 487.6,1065.5 488,1065.5" style="stroke-width:2"/>
<path d="M488,1065.5 650,1106" style="stroke-width:3"/>
<path d="M488,1065.5 650,1106" style="stroke-width:1;stroke-dasharray:1 2.5;stroke:#fff"/>
<path d="M497,1094C497,1092.6 496.8,1081.7 497,1080C497.2,1078.3 498.4,1077.3 499,1077C499.6,1076.7 502.6,1076.5 503,1076.5" style="stroke-width:1.5"/>
<path d="M503,1076.5 648,1112" style="stroke-width:1.5"/>
<path d="M479,1090 479,1072" style="stroke-width:1.2"/>
<path d="M650,1106 646,1122"/>
<path d="M307,1075C309.8,1073.5 319.2,1067.3 324,1066C328.8,1064.7 329,1064.3 336,1067C343,1069.7 359.3,1079.2 366,1082C372.7,1084.8 372.7,1084.3 376,1084C379.3,1083.7 382,1082.3 386,1080C390,1077.7 397.7,1071.7 400,1070"/>
<path d="M410,1063 416,1059"/>
<path d="M306,1088 311,1085"/>
<path d="M320,1079 322,1078"/>
<path d="M450,1088 440,1136" style="stroke-width:1.5"/>
<path d="M572.5,799.5 599,790.5 599,791.5 575,802.5Z" style="stroke-width:1;fill:#000"/>
<circle cx="574" cy="801" r="2" style="stroke-width:1;fill:#000"/>
<path d="M607,788 612,786.7" style="stroke-width:1.5"/>
<path d="M620,783.3 639,778" style="stroke-width:1.5"/>
<path d="M630.4,762.8 651.4,760.5 653.3,784.9 632.4,787Z" style="stroke-width:1.8"/>
<path d="M635.4,764.3 636,785.6" style="stroke-width:1.5"/>
<path d="M632,761.5 651,759.5" style="stroke-width:2"/>
<path d="M636,771 640,773 640,779 636,780Z" style="stroke-width:1;fill:#000"/>
<path d="M652,766.6 682.7,756" style="stroke-width:1.5"/>
<path d="M653,771 678,763.5" style="stroke-width:1.5"/>
<path d="M691,753 695.6,751.3" style="stroke-width:1.5"/>
<path d="M686.5,760.5 692.6,758" style="stroke-width:1.5"/>
<path d="M703,749 720,743.7" style="stroke-width:1.5"/>
<path d="M701,755 720,749" style="stroke-width:1.5"/>
<path d="M368,892 374,902" style="stroke-width:3"/>
<ellipse cx="381" cy="905" rx="4.5" ry="2.5" transform="rotate(30 381 905)" style="stroke-width:2"/>
<path d="M372,896 388,907" style="stroke-width:2.5"/>
<path d="M376,892 392,900" style="stroke-width:1.5"/>
<path d="M396,908 404,913" style="stroke-width:3"/>
<path d="M440,928 452,934" style="stroke-width:3"/>
<ellipse cx="448" cy="934" rx="4" ry="2.5" transform="rotate(25 448 934)" style="stroke-width:2"/>
<path d="M436,932 446,940" style="stroke-width:2"/>
<path d="M480,944 492,950" style="stroke-width:3"/>
<ellipse cx="487" cy="951" rx="4" ry="2.5" transform="rotate(25 487 951)" style="stroke-width:2"/>
<path d="M430,936 440,948" style="stroke-width:4.5"/>
<path d="M436,934 442,944" style="stroke-width:3"/>
<path d="M480,958 488,966" style="stroke-width:4.5"/>
<path d="M474,960 486,962" style="stroke-width:3"/>
</g>
<g>
<!-- handles 21 and latch 25 -->
<path d="M138,1089C138,1086.3 137.4,1085.4 143,1087C148.6,1088.6 180.6,1100.5 186,1103C191.4,1105.5 188.9,1105.1 189,1108C189.1,1110.9 187.8,1125.5 187,1128C186.2,1130.5 186.4,1130.7 182,1129.5C177.6,1128.3 153.6,1120.3 149,1118C144.4,1115.7 144.3,1113.4 143,1110C141.7,1106.6 138,1091.7 138,1089Z" style="stroke-width:3.4"/>
<path d="M145,1095C148,1094.4 177.4,1105.1 181,1108C184.6,1110.9 184,1123.4 181,1124C178,1124.6 154.6,1116.9 151,1114C147.4,1111.1 142,1095.6 145,1095Z" style="stroke-width:1.7"/>
<path d="M146,1103 182,1116" style="stroke-width:1.7"/>
<path d="M141,1093 146,1109 152,1116 183,1127" style="stroke-width:1;stroke-dasharray:1.5 1.5;stroke:#fff"/>
<path d="M151,1069 156,1067 164,1070 162,1076 152,1075Z" style="stroke-width:2.9"/>
<path d="M153,1076 154,1090" style="stroke-width:2.3"/>
<path d="M158,1078 158,1092" style="stroke-width:2.9"/>
<path d="M162,1074 176,1078 176,1098 162,1094Z" style="stroke-width:1.7;fill:#000"/>
<path d="M166,1078 166,1094" style="stroke-width:1;stroke:#fff"/>
<path d="M171,1080 171,1096" style="stroke-width:1;stroke:#fff"/>
<path d="M176,1084 190,1070 193,1072 180,1090Z" style="stroke-width:2.3"/>
<path d="M178,1080 186,1068 190,1070" style="stroke-width:2.9"/>
<path d="M180,1090 186,1086 188,1100 186,1104" style="stroke-width:2.3"/>
<path d="M176,1098 184,1102" style="stroke-width:2.3"/>
<path d="M184,1088 184,1100" style="stroke-width:1.7"/>
<path d="M188,1084 192,1078 192,1096 190,1106" style="stroke-width:1.7"/>
<path d="M164,1068 172,1071" style="stroke-width:2.3"/>
<path d="M170,1036C171,1036 174.3,1035.7 176,1036C177.7,1036.3 178.7,1036.7 180,1038C181.3,1039.3 183.5,1041 184,1044C184.5,1047 183.3,1052 183,1056C182.7,1060 182.2,1066 182,1068" style="stroke-width:2.5"/>
<path d="M170,1036 176,1037.5" style="stroke-width:4"/>
<path d="M251,1073C251,1070.3 250.4,1069.4 256,1071C261.6,1072.6 293.6,1084.5 299,1087C304.4,1089.5 301.9,1089.1 302,1092C302.1,1094.9 300.8,1109.5 300,1112C299.2,1114.5 299.4,1114.7 295,1113.5C290.6,1112.3 266.6,1104.3 262,1102C257.4,1099.7 257.3,1097.4 256,1094C254.7,1090.6 251,1075.7 251,1073Z" style="stroke-width:3.4"/>
<path d="M258,1079C261,1078.4 290.4,1089.1 294,1092C297.6,1094.9 297,1107.4 294,1108C291,1108.6 267.6,1100.9 264,1098C260.4,1095.1 255,1079.6 258,1079Z" style="stroke-width:1.7"/>
<path d="M259,1087 295,1100" style="stroke-width:1.7"/>
<path d="M254,1077 259,1093 265,1100 296,1111" style="stroke-width:1;stroke-dasharray:1.5 1.5;stroke:#fff"/>
<path d="M264,1053 269,1051 277,1054 275,1060 265,1059Z" style="stroke-width:2.9"/>
<path d="M266,1060 267,1074" style="stroke-width:2.3"/>
<path d="M271,1062 271,1076" style="stroke-width:2.9"/>
<path d="M275,1058 289,1062 289,1082 275,1078Z" style="stroke-width:1.7;fill:#000"/>
<path d="M279,1062 279,1078" style="stroke-width:1;stroke:#fff"/>
<path d="M284,1064 284,1080" style="stroke-width:1;stroke:#fff"/>
<path d="M289,1068 303,1054 306,1056 293,1074Z" style="stroke-width:2.3"/>
<path d="M291,1064 299,1052 303,1054" style="stroke-width:2.9"/>
<path d="M293,1074 299,1070 301,1084 299,1088" style="stroke-width:2.3"/>
<path d="M289,1082 297,1086" style="stroke-width:2.3"/>
<path d="M297,1072 297,1084" style="stroke-width:1.7"/>
<path d="M301,1068 305,1062 305,1080 303,1090" style="stroke-width:1.7"/>
<path d="M277,1052 285,1055" style="stroke-width:2.3"/>
<path d="M300,1080 307,1075" style="stroke-width:1.5"/>
<path d="M420,1160 428,1150 434,1143 440,1146 452,1144 462,1143 466,1148 464,1158 462,1166 468,1180 474,1186 475,1192 466,1198 462,1206 450,1212 440,1213 436,1204 424,1200 420,1192Z" style="stroke-width:3.2"/>
<path d="M423,1162 430,1152 436,1147" style="stroke-width:1.7"/>
<path d="M423,1164 424,1198" style="stroke-width:2"/>
<path d="M434,1143 438,1152 446,1148 452,1144" style="stroke-width:2.6"/>
<path d="M440,1146 444,1156 456,1150 462,1143" style="stroke-width:2.6"/>
<path d="M452,1146 462,1145 465,1150 456,1156" style="stroke-width:2"/>
<path d="M458,1147 462,1152" style="stroke-width:2.6"/>
<path d="M430,1160 440,1166 444,1156" style="stroke-width:2.6"/>
<path d="M438,1166 436,1182" style="stroke-width:3.2"/>
<path d="M430,1172C430.7,1171.3 432.3,1168 434,1168C435.7,1168 439.7,1170 440,1172C440.3,1174 436.7,1178.7 436,1180" style="stroke-width:3.9"/>
<path d="M428,1196C428.3,1194.3 428,1188.7 430,1186C432,1183.3 436.3,1180.7 440,1180C443.7,1179.3 450,1181.7 452,1182" style="stroke-width:3.2"/>
<circle cx="437" cy="1189" r="3.5" style="stroke-width:2.6"/>
<circle cx="437" cy="1189" r="1.2" style="stroke-width:1;fill:#000"/>
<path d="M444,1164 460,1160 464,1186 450,1190" style="stroke-width:2.6"/>
<path d="M448,1168 456,1166" style="stroke-width:3.2"/>
<path d="M450,1174 458,1172" style="stroke-width:2.6;stroke-dasharray:2 2"/>
<path d="M452,1180 460,1178" style="stroke-width:2.6;stroke-dasharray:2 2"/>
<path d="M460,1158 464,1156" style="stroke-width:4.5"/>
<path d="M456,1160 462,1164" style="stroke-width:3.2"/>
<circle cx="448" cy="1194" r="3.5" style="stroke-width:1;fill:#000"/>
<circle cx="456" cy="1192" r="3" style="stroke-width:1;fill:#000"/>
<circle cx="443" cy="1204" r="3" style="stroke-width:1;fill:#000"/>
<path d="M436,1200 446,1206 460,1200 466,1194" style="stroke-width:2.6"/>
<path d="M440,1208 452,1208 458,1204" style="stroke-width:3.9"/>
<rect x="448" y="1200" width="6" height="6" style="stroke-width:2"/>
<path d="M456,1202 462,1198" style="stroke-width:2.6"/>
<circle cx="467" cy="1183" r="2.5" style="stroke-width:2.6"/>
<circle cx="472" cy="1189" r="2.5" style="stroke-width:2.6"/>
<path d="M464,1186 472,1192" style="stroke-width:2.6"/>
<path d="M426,1176 430,1196" style="stroke-width:2"/>
<path d="M428,1166 434,1160" style="stroke-width:1.7"/>
</g>
</svg>
</body></html>
